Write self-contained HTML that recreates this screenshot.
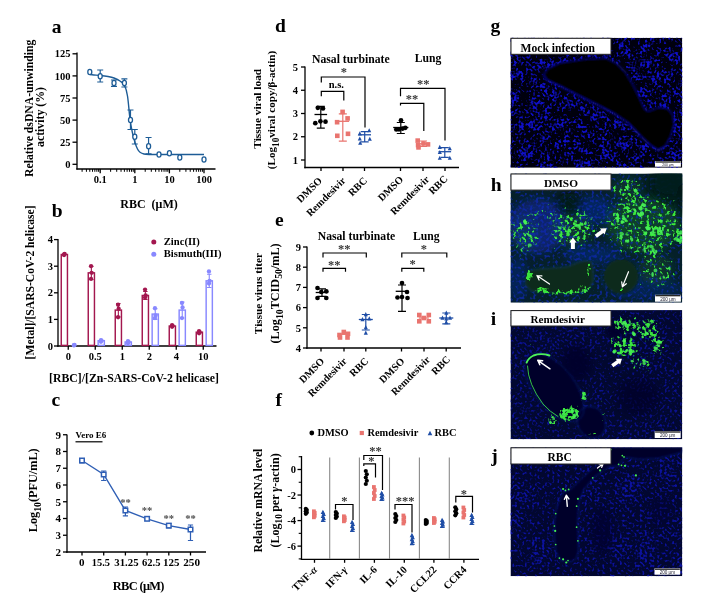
<!DOCTYPE html>
<html><head><meta charset="utf-8"><title>Figure</title>
<style>html,body{margin:0;padding:0;background:#fff}svg{display:block}</style></head>
<body>
<svg width="701" height="600" viewBox="0 0 701 600" font-family="'Liberation Serif', serif" font-weight="bold">
<rect width="701" height="600" fill="#fff"/>
<defs>
<filter id="fb1" x="0" y="0" width="100%" height="100%" color-interpolation-filters="sRGB"><feTurbulence type="fractalNoise" baseFrequency="0.42" numOctaves="1" seed="3" result="a"/><feColorMatrix in="a" type="matrix" values="1 0 0 0 0 0 1 0 0 0 0 0 1 0 0 0 0 0 0 1" result="a1"/><feTurbulence type="fractalNoise" baseFrequency="0.1" numOctaves="2" seed="5" result="b"/><feColorMatrix in="b" type="matrix" values="1 0 0 0 0 0 1 0 0 0 0 0 1 0 0 0 0 0 0 1" result="b1"/><feComposite in="a1" in2="b1" operator="arithmetic" k1="0" k2="1" k3="0.5" k4="-0.25" result="c"/><feColorMatrix in="c" type="matrix" values="0 0 0 0 0.06 0 0 0 0 0.06 0 0 0 0 0.78 5 0 0 0 -2.5"/><feGaussianBlur stdDeviation="0.5"/></filter>
<filter id="fb2" x="0" y="0" width="100%" height="100%" color-interpolation-filters="sRGB"><feTurbulence type="fractalNoise" baseFrequency="0.33" numOctaves="1" seed="11" result="a"/><feColorMatrix in="a" type="matrix" values="1 0 0 0 0 0 1 0 0 0 0 0 1 0 0 0 0 0 0 1" result="a1"/><feTurbulence type="fractalNoise" baseFrequency="0.03" numOctaves="2" seed="9" result="b"/><feColorMatrix in="b" type="matrix" values="1 0 0 0 0 0 1 0 0 0 0 0 1 0 0 0 0 0 0 1" result="b1"/><feComposite in="a1" in2="b1" operator="arithmetic" k1="0" k2="1" k3="0.9" k4="-0.45" result="c"/><feColorMatrix in="c" type="matrix" values="0 0 0 0 0.05 0 0 0 0 0.15 0 0 0 0 0.85 6 0 0 0 -2.82"/><feGaussianBlur stdDeviation="0.45"/></filter>
<filter id="fb3" x="0" y="0" width="100%" height="100%" color-interpolation-filters="sRGB"><feTurbulence type="fractalNoise" baseFrequency="0.4" numOctaves="1" seed="21" result="a"/><feColorMatrix in="a" type="matrix" values="1 0 0 0 0 0 1 0 0 0 0 0 1 0 0 0 0 0 0 1" result="a1"/><feTurbulence type="fractalNoise" baseFrequency="0.07" numOctaves="2" seed="13" result="b"/><feColorMatrix in="b" type="matrix" values="1 0 0 0 0 0 1 0 0 0 0 0 1 0 0 0 0 0 0 1" result="b1"/><feComposite in="a1" in2="b1" operator="arithmetic" k1="0" k2="1" k3="0.6" k4="-0.3" result="c"/><feColorMatrix in="c" type="matrix" values="0 0 0 0 0.07 0 0 0 0 0.09 0 0 0 0 0.8 4.5 0 0 0 -2.295"/><feGaussianBlur stdDeviation="0.6"/></filter>
<filter id="fb4" x="0" y="0" width="100%" height="100%" color-interpolation-filters="sRGB"><feTurbulence type="fractalNoise" baseFrequency="0.4" numOctaves="1" seed="31" result="a"/><feColorMatrix in="a" type="matrix" values="1 0 0 0 0 0 1 0 0 0 0 0 1 0 0 0 0 0 0 1" result="a1"/><feTurbulence type="fractalNoise" baseFrequency="0.07" numOctaves="2" seed="17" result="b"/><feColorMatrix in="b" type="matrix" values="1 0 0 0 0 0 1 0 0 0 0 0 1 0 0 0 0 0 0 1" result="b1"/><feComposite in="a1" in2="b1" operator="arithmetic" k1="0" k2="1" k3="0.6" k4="-0.3" result="c"/><feColorMatrix in="c" type="matrix" values="0 0 0 0 0.07 0 0 0 0 0.09 0 0 0 0 0.8 4.5 0 0 0 -2.295"/><feGaussianBlur stdDeviation="0.6"/></filter>
<filter id="fg1" x="0" y="0" width="100%" height="100%" color-interpolation-filters="sRGB"><feTurbulence type="fractalNoise" baseFrequency="0.4" numOctaves="1" seed="41" result="a"/><feColorMatrix in="a" type="matrix" values="1 0 0 0 0 0 1 0 0 0 0 0 1 0 0 0 0 0 0 1" result="a1"/><feTurbulence type="fractalNoise" baseFrequency="0.08" numOctaves="2" seed="19" result="b"/><feColorMatrix in="b" type="matrix" values="1 0 0 0 0 0 1 0 0 0 0 0 1 0 0 0 0 0 0 1" result="b1"/><feComposite in="a1" in2="b1" operator="arithmetic" k1="0" k2="1" k3="0.9" k4="-0.45" result="c"/><feColorMatrix in="c" type="matrix" values="0 0 0 0 0.25 0 0 0 0 0.95 0 0 0 0 0.25 8 0 0 0 -4.0"/><feGaussianBlur stdDeviation="0.45"/></filter>
<filter id="dgh" filterUnits="userSpaceOnUse" x="510.5" y="173.5" width="171.8" height="129.2" color-interpolation-filters="sRGB"><feTurbulence type="fractalNoise" baseFrequency="0.3" numOctaves="2" seed="41" result="a"/><feColorMatrix in="a" type="matrix" values="1 0 0 0 0 0 1 0 0 0 0 0 1 0 0 0 0 0 0 1" result="a1"/><feColorMatrix in="SourceGraphic" type="matrix" values="0 0 0 1 0 0 0 0 0 0 0 0 0 0 0 0 0 0 0 1" result="s"/><feComposite in="a1" in2="s" operator="arithmetic" k1="0" k2="1" k3="0.5" k4="0" result="c"/><feColorMatrix in="c" type="matrix" values="0 0 0 0 0.25 0 0 0 0 0.98 0 0 0 0 0.25 6 0 0 0 -5.1"/><feGaussianBlur stdDeviation="0.45"/></filter>
<filter id="dbh" filterUnits="userSpaceOnUse" x="510.5" y="173.5" width="171.8" height="129.2" color-interpolation-filters="sRGB"><feTurbulence type="fractalNoise" baseFrequency="0.36" numOctaves="1" seed="11" result="a"/><feColorMatrix in="a" type="matrix" values="1 0 0 0 0 0 1 0 0 0 0 0 1 0 0 0 0 0 0 1" result="a1"/><feColorMatrix in="SourceGraphic" type="matrix" values="0 0 0 1 0 0 0 0 0 0 0 0 0 0 0 0 0 0 0 1" result="s"/><feComposite in="a1" in2="s" operator="arithmetic" k1="0" k2="1" k3="0.5" k4="0" result="c"/><feColorMatrix in="c" type="matrix" values="0 0 0 0 0.06 0 0 0 0 0.16 0 0 0 0 0.7 4 0 0 0 -3.28"/><feGaussianBlur stdDeviation="0.55"/></filter>
<filter id="dgi" filterUnits="userSpaceOnUse" x="510.5" y="310.1" width="171.8" height="129.2" color-interpolation-filters="sRGB"><feTurbulence type="fractalNoise" baseFrequency="0.3" numOctaves="2" seed="43" result="a"/><feColorMatrix in="a" type="matrix" values="1 0 0 0 0 0 1 0 0 0 0 0 1 0 0 0 0 0 0 1" result="a1"/><feColorMatrix in="SourceGraphic" type="matrix" values="0 0 0 1 0 0 0 0 0 0 0 0 0 0 0 0 0 0 0 1" result="s"/><feComposite in="a1" in2="s" operator="arithmetic" k1="0" k2="1" k3="0.5" k4="0" result="c"/><feColorMatrix in="c" type="matrix" values="0 0 0 0 0.25 0 0 0 0 0.98 0 0 0 0 0.25 6 0 0 0 -5.1"/><feGaussianBlur stdDeviation="0.45"/></filter>
<filter id="dbi" filterUnits="userSpaceOnUse" x="510.5" y="310.1" width="171.8" height="129.2" color-interpolation-filters="sRGB"><feTurbulence type="fractalNoise" baseFrequency="0.4" numOctaves="1" seed="21" result="a"/><feColorMatrix in="a" type="matrix" values="1 0 0 0 0 0 1 0 0 0 0 0 1 0 0 0 0 0 0 1" result="a1"/><feColorMatrix in="SourceGraphic" type="matrix" values="0 0 0 1 0 0 0 0 0 0 0 0 0 0 0 0 0 0 0 1" result="s"/><feComposite in="a1" in2="s" operator="arithmetic" k1="0" k2="1" k3="0.5" k4="0" result="c"/><feColorMatrix in="c" type="matrix" values="0 0 0 0 0.06 0 0 0 0 0.08 0 0 0 0 0.7 4 0 0 0 -3.28"/><feGaussianBlur stdDeviation="0.5"/></filter>
<filter id="dbj" filterUnits="userSpaceOnUse" x="510.5" y="447.3" width="171.8" height="128.9" color-interpolation-filters="sRGB"><feTurbulence type="fractalNoise" baseFrequency="0.4" numOctaves="1" seed="31" result="a"/><feColorMatrix in="a" type="matrix" values="1 0 0 0 0 0 1 0 0 0 0 0 1 0 0 0 0 0 0 1" result="a1"/><feColorMatrix in="SourceGraphic" type="matrix" values="0 0 0 1 0 0 0 0 0 0 0 0 0 0 0 0 0 0 0 1" result="s"/><feComposite in="a1" in2="s" operator="arithmetic" k1="0" k2="1" k3="0.5" k4="0" result="c"/><feColorMatrix in="c" type="matrix" values="0 0 0 0 0.06 0 0 0 0 0.08 0 0 0 0 0.72 4.5 0 0 0 -3.69"/><feGaussianBlur stdDeviation="0.5"/></filter>
<filter id="bl2" x="-20%" y="-20%" width="140%" height="140%"><feGaussianBlur stdDeviation="2"/></filter>
<filter id="bl4" x="-30%" y="-30%" width="160%" height="160%"><feGaussianBlur stdDeviation="4"/></filter>
<filter id="bl1" x="-20%" y="-20%" width="140%" height="140%"><feGaussianBlur stdDeviation="0.8"/></filter>
<clipPath id="cpg"><rect x="510.5" y="37.8" width="171.8" height="130"/></clipPath>
<clipPath id="cph"><rect x="510.5" y="173.5" width="171.8" height="129.2"/></clipPath>
<clipPath id="cpi"><rect x="510.5" y="310.1" width="171.8" height="129.2"/></clipPath>
<clipPath id="cpj"><rect x="510.5" y="447.3" width="171.8" height="128.9"/></clipPath>
</defs>
<g clip-path="url(#cpg)">
<rect x="510.5" y="37.8" width="171.8" height="130" fill="#00000e"/>
<rect x="510.5" y="37.8" width="171.8" height="130" filter="url(#fb1)"/>
<path d="M543.3 75.0L547.0 68.8L559.4 62.7L584.0 59.0L606.2 57.7L616.1 62.7L626.0 72.6L633.4 84.9L639.6 97.2L644.5 108.3L648.2 111.1L658.1 107.3L667.9 108.3L672.9 114.5L674.4 124.4L670.9 136.7L665.5 146.6L658.1 150.5L650.7 145.6L640.8 136.7L628.5 123.4L613.7 113.5L596.4 104.6L579.1 96.0L559.4 86.1L547.0 80.2Z" fill="#000005" stroke="#1a1ad0" stroke-width="1.1" stroke-opacity="0.5" filter="url(#bl1)"/>
<path d="M543.3 75.0L547.0 80.2L559.4 86.1L579.1 96.0L596.4 104.6L613.7 113.5L628.5 123.4L640.8 136.7L650.7 145.6L658.1 150.5L665.5 146.6" fill="none" stroke="#1c1cc8" stroke-width="1.1" stroke-opacity="0.55" filter="url(#bl1)"/>
</g>
<rect x="511.0" y="38.3" width="100" height="16.0" fill="#fff" stroke="#222" stroke-width="1"/>
<text x="557.7" y="51.599999999999994" font-size="11.6" text-anchor="middle" fill="#000">Mock infection</text>
<rect x="655" y="161.1" width="25.9" height="5.6" fill="#fff"/>
<rect x="655.4" y="161.4" width="25.099999999999998" height="1.2" fill="#111"/>
<text x="667.95" y="165.79999999999998" font-size="3.4" text-anchor="middle" font-family="'Liberation Sans', sans-serif" font-weight="normal" fill="#223">200 μm</text>
<g clip-path="url(#cph)">
<rect x="510.5" y="173.5" width="171.8" height="129.2" fill="#05202a"/>
<g filter="url(#bl4)"><g fill="#0c2a9a"><ellipse cx="537.1" cy="226.1" rx="29.6" ry="27.1" opacity="0.6"/><ellipse cx="593.9" cy="210.0" rx="17.3" ry="13.6" opacity="0.5"/><ellipse cx="591.4" cy="254.4" rx="27.1" ry="8.6" opacity="0.45"/><ellipse cx="648.2" cy="289.0" rx="34.6" ry="9.9" opacity="0.35"/><ellipse cx="517.4" cy="279.1" rx="9.9" ry="22.2" opacity="0.4"/></g><g fill="#14602c"><ellipse cx="643.3" cy="224.8" rx="37.0" ry="27.1" opacity="0.5"/><ellipse cx="571.7" cy="229.8" rx="19.7" ry="16.0" opacity="0.3"/><ellipse cx="626.0" cy="187.8" rx="14.8" ry="9.9" opacity="0.3"/><ellipse cx="524.8" cy="234.7" rx="12.3" ry="17.3" opacity="0.25"/><ellipse cx="655.6" cy="269.2" rx="17.3" ry="14.8" opacity="0.3"/></g><g fill="#021410"><ellipse cx="667.9" cy="185.3" rx="19.7" ry="17.3" opacity="0.95"/><ellipse cx="569.2" cy="204.6" rx="11.4" ry="9.4" opacity="0.85"/><ellipse cx="682.8" cy="202.6" rx="7.4" ry="14.8" opacity="0.6"/></g></g>
<g filter="url(#dbh)"><g filter="url(#bl4)"><rect x="502.5" y="165.5" width="187.8" height="145.2" opacity="0.55"/><ellipse cx="537.1" cy="226.1" rx="33.3" ry="30.8" opacity="0.33"/><ellipse cx="593.9" cy="210.0" rx="21.0" ry="17.3" opacity="0.3"/><ellipse cx="591.4" cy="254.4" rx="32.1" ry="12.3" opacity="0.25"/><ellipse cx="596.4" cy="298.9" rx="88.8" ry="7.4" opacity="0.15"/><ellipse cx="517.4" cy="279.1" rx="12.3" ry="22.2" opacity="0.15"/><ellipse cx="598.8" cy="276.7" rx="6.2" ry="17.3" opacity="0.2"/></g></g>
<g filter="url(#bl4)" fill="#031a1a"><ellipse cx="670.4" cy="182.9" rx="21.0" ry="16.0" opacity="0.95"/><ellipse cx="569.2" cy="204.6" rx="10.4" ry="8.4" opacity="0.8"/><ellipse cx="684.0" cy="200.1" rx="7.4" ry="17.3" opacity="0.7"/></g>
<g filter="url(#dgh)"><g filter="url(#bl4)"><ellipse cx="643.3" cy="226.1" rx="40.7" ry="32.1" opacity="0.52"/><ellipse cx="618.6" cy="215.0" rx="12.3" ry="9.9" opacity="0.33"/><ellipse cx="638.3" cy="205.1" rx="16.0" ry="9.9" opacity="0.33"/><ellipse cx="655.6" cy="230.3" rx="13.6" ry="8.4" opacity="0.55"/><ellipse cx="679.1" cy="237.2" rx="5.4" ry="9.4" opacity="0.7"/><ellipse cx="648.2" cy="249.5" rx="16.0" ry="7.4" opacity="0.25"/><ellipse cx="626.0" cy="187.8" rx="17.3" ry="12.3" opacity="0.62"/><ellipse cx="572.9" cy="228.5" rx="24.7" ry="19.7" opacity="0.7"/><ellipse cx="524.8" cy="234.7" rx="16.0" ry="21.0" opacity="0.62"/><ellipse cx="544.6" cy="212.5" rx="14.8" ry="7.4" opacity="0.5"/><ellipse cx="658.1" cy="271.7" rx="18.5" ry="17.3" opacity="0.55"/><ellipse cx="667.9" cy="210.0" rx="9.9" ry="12.3" opacity="0.25"/></g></g>
<g fill="#46f056">
<ellipse cx="653.7" cy="232.1" rx="2.2" ry="0.9" opacity="0.88" transform="rotate(46 653.7 232.1)"/>
<ellipse cx="646.4" cy="227.7" rx="1.6" ry="1.0" opacity="0.85" transform="rotate(30 646.4 227.7)"/>
<ellipse cx="661.7" cy="232.2" rx="2.5" ry="1.0" opacity="0.81" transform="rotate(80 661.7 232.2)"/>
<ellipse cx="653.2" cy="229.6" rx="2.1" ry="0.9" opacity="0.81" transform="rotate(71 653.2 229.6)"/>
<ellipse cx="659.4" cy="228.0" rx="1.4" ry="1.0" opacity="0.83" transform="rotate(87 659.4 228.0)"/>
<ellipse cx="659.2" cy="234.0" rx="2.2" ry="1.3" opacity="0.89" transform="rotate(8 659.2 234.0)"/>
<ellipse cx="647.6" cy="228.6" rx="2.0" ry="1.5" opacity="0.94" transform="rotate(59 647.6 228.6)"/>
<ellipse cx="649.2" cy="228.4" rx="1.7" ry="1.7" opacity="0.92" transform="rotate(31 649.2 228.4)"/>
<ellipse cx="660.9" cy="231.7" rx="2.0" ry="1.2" opacity="0.86" transform="rotate(77 660.9 231.7)"/>
<ellipse cx="659.4" cy="230.0" rx="1.9" ry="1.7" opacity="0.79" transform="rotate(62 659.4 230.0)"/>
<ellipse cx="646.0" cy="232.8" rx="1.3" ry="1.5" opacity="0.95" transform="rotate(40 646.0 232.8)"/>
<ellipse cx="652.1" cy="233.0" rx="2.0" ry="1.7" opacity="0.77" transform="rotate(11 652.1 233.0)"/>
<ellipse cx="662.8" cy="229.0" rx="2.2" ry="0.9" opacity="0.93" transform="rotate(82 662.8 229.0)"/>
<ellipse cx="647.5" cy="228.2" rx="1.9" ry="1.7" opacity="0.97" transform="rotate(44 647.5 228.2)"/>
<ellipse cx="681.1" cy="238.3" rx="1.5" ry="1.0" opacity="0.76" transform="rotate(36 681.1 238.3)"/>
<ellipse cx="680.1" cy="240.2" rx="1.8" ry="1.8" opacity="0.77" transform="rotate(57 680.1 240.2)"/>
<ellipse cx="677.8" cy="239.8" rx="1.4" ry="1.3" opacity="0.89" transform="rotate(90 677.8 239.8)"/>
<ellipse cx="677.5" cy="239.8" rx="2.5" ry="1.9" opacity="0.79" transform="rotate(22 677.5 239.8)"/>
<ellipse cx="680.5" cy="242.2" rx="1.3" ry="1.8" opacity="0.8" transform="rotate(36 680.5 242.2)"/>
<ellipse cx="681.0" cy="237.8" rx="1.8" ry="1.5" opacity="0.99" transform="rotate(88 681.0 237.8)"/>
<ellipse cx="680.9" cy="232.5" rx="2.2" ry="1.7" opacity="0.86" transform="rotate(87 680.9 232.5)"/>
<ellipse cx="679.6" cy="233.5" rx="1.8" ry="1.0" opacity="0.91" transform="rotate(7 679.6 233.5)"/>
<ellipse cx="623.0" cy="221.9" rx="1.9" ry="1.0" opacity="0.9" transform="rotate(13 623.0 221.9)"/>
<ellipse cx="623.2" cy="216.2" rx="1.4" ry="1.3" opacity="0.76" transform="rotate(26 623.2 216.2)"/>
<ellipse cx="617.3" cy="214.6" rx="1.6" ry="1.2" opacity="0.84" transform="rotate(15 617.3 214.6)"/>
<ellipse cx="624.3" cy="219.1" rx="2.7" ry="1.4" opacity="0.83" transform="rotate(18 624.3 219.1)"/>
<ellipse cx="623.9" cy="218.4" rx="1.6" ry="1.8" opacity="0.79" transform="rotate(2 623.9 218.4)"/>
<ellipse cx="622.2" cy="222.0" rx="1.8" ry="1.6" opacity="0.98" transform="rotate(67 622.2 222.0)"/>
<ellipse cx="617.8" cy="220.9" rx="1.4" ry="1.8" opacity="0.88" transform="rotate(21 617.8 220.9)"/>
<ellipse cx="617.3" cy="218.5" rx="2.0" ry="1.4" opacity="0.91" transform="rotate(78 617.3 218.5)"/>
<ellipse cx="643.7" cy="205.0" rx="2.5" ry="1.8" opacity="0.95" transform="rotate(29 643.7 205.0)"/>
<ellipse cx="642.0" cy="213.6" rx="2.3" ry="2.0" opacity="0.95" transform="rotate(60 642.0 213.6)"/>
<ellipse cx="639.0" cy="214.5" rx="2.7" ry="1.4" opacity="0.98" transform="rotate(44 639.0 214.5)"/>
<ellipse cx="646.0" cy="209.1" rx="1.6" ry="1.1" opacity="0.8" transform="rotate(26 646.0 209.1)"/>
<ellipse cx="628.6" cy="210.6" rx="2.1" ry="0.9" opacity="0.98" transform="rotate(44 628.6 210.6)"/>
<ellipse cx="640.6" cy="208.5" rx="2.2" ry="1.9" opacity="0.95" transform="rotate(25 640.6 208.5)"/>
<ellipse cx="634.9" cy="210.3" rx="2.4" ry="1.2" opacity="0.95" transform="rotate(50 634.9 210.3)"/>
<ellipse cx="630.2" cy="211.1" rx="1.4" ry="1.0" opacity="1.0" transform="rotate(3 630.2 211.1)"/>
<ellipse cx="654.3" cy="252.9" rx="2.4" ry="1.0" opacity="0.96" transform="rotate(60 654.3 252.9)"/>
<ellipse cx="644.6" cy="247.3" rx="2.0" ry="1.0" opacity="0.75" transform="rotate(83 644.6 247.3)"/>
<ellipse cx="655.9" cy="251.8" rx="1.4" ry="2.0" opacity="0.8" transform="rotate(27 655.9 251.8)"/>
<ellipse cx="653.2" cy="249.9" rx="2.0" ry="1.7" opacity="0.83" transform="rotate(69 653.2 249.9)"/>
<ellipse cx="644.7" cy="250.3" rx="2.6" ry="1.3" opacity="0.86" transform="rotate(74 644.7 250.3)"/>
<ellipse cx="651.4" cy="246.6" rx="2.5" ry="1.8" opacity="0.78" transform="rotate(19 651.4 246.6)"/>
<ellipse cx="627.1" cy="234.5" rx="1.9" ry="1.1" opacity="0.75" transform="rotate(19 627.1 234.5)"/>
<ellipse cx="631.6" cy="239.2" rx="2.3" ry="1.5" opacity="0.83" transform="rotate(66 631.6 239.2)"/>
<ellipse cx="621.7" cy="233.7" rx="2.4" ry="1.8" opacity="0.76" transform="rotate(24 621.7 233.7)"/>
<ellipse cx="627.0" cy="241.1" rx="2.0" ry="1.5" opacity="0.94" transform="rotate(8 627.0 241.1)"/>
<ellipse cx="621.2" cy="236.7" rx="2.0" ry="1.4" opacity="0.92" transform="rotate(57 621.2 236.7)"/>
<ellipse cx="559.7" cy="228.0" rx="2.0" ry="1.1" opacity="0.88" transform="rotate(33 559.7 228.0)"/>
<ellipse cx="585.3" cy="223.6" rx="1.5" ry="1.4" opacity="0.85" transform="rotate(50 585.3 223.6)"/>
<ellipse cx="569.2" cy="229.6" rx="1.6" ry="0.9" opacity="0.92" transform="rotate(15 569.2 229.6)"/>
<ellipse cx="577.6" cy="225.9" rx="2.3" ry="1.6" opacity="0.79" transform="rotate(17 577.6 225.9)"/>
<ellipse cx="579.7" cy="227.5" rx="2.6" ry="1.3" opacity="0.87" transform="rotate(85 579.7 227.5)"/>
<ellipse cx="575.9" cy="224.7" rx="1.9" ry="1.4" opacity="0.83" transform="rotate(25 575.9 224.7)"/>
<ellipse cx="570.1" cy="231.2" rx="1.8" ry="1.2" opacity="0.86" transform="rotate(90 570.1 231.2)"/>
<ellipse cx="529.7" cy="235.6" rx="2.2" ry="1.4" opacity="0.77" transform="rotate(29 529.7 235.6)"/>
<ellipse cx="527.6" cy="233.9" rx="1.6" ry="0.9" opacity="0.94" transform="rotate(34 527.6 233.9)"/>
<ellipse cx="525.1" cy="222.4" rx="2.5" ry="1.6" opacity="0.99" transform="rotate(51 525.1 222.4)"/>
<ellipse cx="529.7" cy="245.2" rx="2.1" ry="1.6" opacity="0.77" transform="rotate(7 529.7 245.2)"/>
<ellipse cx="627.3" cy="187.3" rx="2.6" ry="1.2" opacity="0.75" transform="rotate(11 627.3 187.3)"/>
<ellipse cx="626.9" cy="188.3" rx="2.5" ry="0.9" opacity="0.97" transform="rotate(58 626.9 188.3)"/>
<ellipse cx="635.8" cy="190.8" rx="1.9" ry="1.9" opacity="0.91" transform="rotate(5 635.8 190.8)"/>
<ellipse cx="621.2" cy="189.7" rx="1.4" ry="1.0" opacity="0.76" transform="rotate(25 621.2 189.7)"/>
<ellipse cx="669.5" cy="268.5" rx="2.0" ry="1.1" opacity="0.86" transform="rotate(86 669.5 268.5)"/>
<ellipse cx="663.7" cy="276.9" rx="1.3" ry="1.1" opacity="0.75" transform="rotate(64 663.7 276.9)"/>
<ellipse cx="655.4" cy="270.4" rx="1.9" ry="1.9" opacity="0.78" transform="rotate(83 655.4 270.4)"/>
<ellipse cx="652.6" cy="274.6" rx="2.5" ry="1.3" opacity="0.88" transform="rotate(88 652.6 274.6)"/>
</g>
<path d="M524.8 277.9L526.8 271.7L534.7 269.2L547.0 268.3L566.8 266.8L577.9 262.3L585.3 260.4L591.4 261.4L593.2 268.0L593.2 281.6L589.5 289.0L579.1 292.4L571.7 293.9L547.0 292.9L531.0 291.0L525.3 285.3Z" fill="#092c1e" stroke="#0e3c58" stroke-width="0.8" filter="url(#bl1)"/>
<ellipse cx="621" cy="276.6" rx="17.3" ry="17.3" fill="#092c1e" filter="url(#bl1)"/>
<ellipse cx="621" cy="276.6" rx="19.5" ry="19.5" fill="none" stroke="#1238a0" stroke-opacity="0.55" stroke-width="1" filter="url(#bl1)"/>
<g filter="url(#dgh)"><g filter="url(#bl1)"><ellipse cx="529.7" cy="276.2" rx="3.7" ry="6.4" opacity="1"/><ellipse cx="563.1" cy="292.0" rx="27.1" ry="2.5" opacity="0.95"/><ellipse cx="588.5" cy="269.2" rx="2.0" ry="7.9" opacity="0.95"/><ellipse cx="622.3" cy="289.0" rx="3.0" ry="2.0" opacity="0.9"/><ellipse cx="584.0" cy="287.8" rx="6.9" ry="3.0" opacity="0.85"/><ellipse cx="542.1" cy="289.0" rx="7.4" ry="2.5" opacity="0.9"/></g></g>
</g>
<path d="M-5.8 -2.0L0.8 -2.0L0.8 -3.7L5.8 0.0L0.8 3.7L0.8 2.0L-5.8 2.0Z" fill="#fff" transform="translate(572.9 243.3) rotate(-90)"/>
<path d="M-6.8 -1.9L1.2 -1.9L1.2 -3.8L6.8 0.0L1.2 3.8L1.2 1.9L-6.8 1.9Z" fill="#fff" transform="translate(601.3 232.2) rotate(-36)"/>
<path d="M549.5 284.1L536.9 275.5M541.9 275.9L536.9 275.5L539.1 280.0" stroke="#fff" stroke-width="1.2" fill="none" stroke-linecap="round" stroke-linejoin="round"/>
<path d="M628.5 271.7L622.4 286.8M621.7 281.8L622.4 286.8L626.3 283.7" stroke="#fff" stroke-width="1.2" fill="none" stroke-linecap="round" stroke-linejoin="round"/>
<rect x="511.0" y="174.0" width="100" height="16.1" fill="#fff" stroke="#222" stroke-width="1"/>
<text x="561" y="187.4" font-size="11.3" text-anchor="middle" fill="#000">DMSO</text>
<rect x="655" y="294.8" width="25.9" height="6.9" fill="#fff"/>
<rect x="655.4" y="295.1" width="25.099999999999998" height="1.2" fill="#111"/>
<text x="667.95" y="300.8" font-size="4.6" text-anchor="middle" font-family="'Liberation Sans', sans-serif" font-weight="normal" fill="#223">200 μm</text>
<g clip-path="url(#cpi)">
<rect x="510.5" y="310.1" width="171.8" height="129.2" fill="#020830"/>
<g filter="url(#dbi)"><g filter="url(#bl4)"><rect x="502.5" y="302.1" width="187.8" height="145.2" opacity="0.52"/><ellipse cx="534.7" cy="356.9" rx="27.1" ry="29.6" opacity="0.25"/><ellipse cx="584.0" cy="337.1" rx="27.1" ry="14.8" opacity="0.22"/><ellipse cx="524.8" cy="416.1" rx="22.2" ry="27.1" opacity="0.2"/><ellipse cx="658.1" cy="396.4" rx="27.1" ry="39.5" opacity="0.15"/><ellipse cx="621.1" cy="430.9" rx="49.4" ry="11.1" opacity="0.18"/><ellipse cx="648.2" cy="344.6" rx="29.6" ry="24.7" opacity="0.15"/><ellipse cx="598.8" cy="391.4" rx="12.3" ry="14.8" opacity="0.15"/></g></g>
<g fill="#02062a" filter="url(#bl4)"><ellipse cx="576.1" cy="363.8" rx="15.3" ry="17.8" opacity="0.95"/><ellipse cx="638.3" cy="396.4" rx="21.0" ry="18.5" opacity="0.7"/></g>
<g fill="#02062a" filter="url(#bl2)"><ellipse cx="614.9" cy="331.0" rx="8.4" ry="6.9" opacity="0.95"/></g>
<g fill="#02062a" filter="url(#bl1)"><ellipse cx="554.3" cy="387.3" rx="19.6" ry="40" transform="rotate(-38.5 554.3 387.3)"/><ellipse cx="591.4" cy="422.3" rx="13.5" ry="16" transform="rotate(-25 591.4 422.3)"/></g>
<g fill="none" stroke="#1830b0" stroke-width="0.8" stroke-opacity="0.55" filter="url(#bl1)"><ellipse cx="554.3" cy="387.3" rx="20.2" ry="40.6" transform="rotate(-38.5 554.3 387.3)"/><ellipse cx="591.4" cy="422.3" rx="14" ry="16.5" transform="rotate(-25 591.4 422.3)"/></g>
<g filter="url(#dgi)"><g filter="url(#bl2)"><ellipse cx="626.0" cy="324.8" rx="13.6" ry="7.9" opacity="0.8"/><ellipse cx="648.2" cy="329.7" rx="9.9" ry="11.1" opacity="0.8"/><ellipse cx="658.1" cy="344.6" rx="6.9" ry="11.1" opacity="0.75"/><ellipse cx="626.0" cy="347.0" rx="13.6" ry="11.1" opacity="0.78"/><ellipse cx="640.8" cy="363.1" rx="11.1" ry="7.4" opacity="0.65"/><ellipse cx="613.7" cy="340.8" rx="6.2" ry="6.2" opacity="0.5"/><ellipse cx="654.4" cy="321.1" rx="5.4" ry="3.9" opacity="0.6"/></g><g filter="url(#bl1)"><ellipse cx="568.7" cy="413.7" rx="10.4" ry="7.9" opacity="0.95"/><ellipse cx="552.0" cy="419.8" rx="5.4" ry="5.9" opacity="0.75"/><ellipse cx="584.0" cy="396.4" rx="3.5" ry="5.9" opacity="0.9"/><ellipse cx="576.6" cy="407.5" rx="3.0" ry="3.0" opacity="0.8"/><ellipse cx="591.4" cy="434.1" rx="8.4" ry="1.7" opacity="0.85"/><ellipse cx="603.3" cy="416.1" rx="1.2" ry="6.2" opacity="0.7"/></g></g>
<g fill="#46f056">
<ellipse cx="617.9" cy="323.3" rx="2.4" ry="1.3" opacity="0.88" transform="rotate(75 617.9 323.3)"/>
<ellipse cx="626.1" cy="326.0" rx="1.8" ry="1.5" opacity="0.8" transform="rotate(57 626.1 326.0)"/>
<ellipse cx="622.7" cy="323.6" rx="2.2" ry="1.5" opacity="0.76" transform="rotate(50 622.7 323.6)"/>
<ellipse cx="629.7" cy="321.5" rx="2.0" ry="1.0" opacity="0.75" transform="rotate(67 629.7 321.5)"/>
<ellipse cx="624.9" cy="322.7" rx="2.3" ry="1.5" opacity="0.94" transform="rotate(41 624.9 322.7)"/>
<ellipse cx="633.2" cy="333.1" rx="1.9" ry="1.5" opacity="0.87" transform="rotate(84 633.2 333.1)"/>
<ellipse cx="647.0" cy="333.6" rx="1.7" ry="1.4" opacity="0.98" transform="rotate(10 647.0 333.6)"/>
<ellipse cx="639.5" cy="327.5" rx="1.5" ry="1.1" opacity="0.77" transform="rotate(13 639.5 327.5)"/>
<ellipse cx="634.2" cy="334.4" rx="1.7" ry="1.8" opacity="0.96"/>
<ellipse cx="642.7" cy="337.0" rx="1.3" ry="1.2" opacity="0.93" transform="rotate(53 642.7 337.0)"/>
<ellipse cx="647.1" cy="333.2" rx="2.2" ry="1.1" opacity="0.77" transform="rotate(42 647.1 333.2)"/>
<ellipse cx="658.0" cy="342.7" rx="2.4" ry="1.0" opacity="0.93" transform="rotate(1 658.0 342.7)"/>
<ellipse cx="658.8" cy="345.7" rx="1.5" ry="1.4" opacity="0.86" transform="rotate(24 658.8 345.7)"/>
<ellipse cx="659.0" cy="341.2" rx="1.8" ry="1.2" opacity="0.85" transform="rotate(27 659.0 341.2)"/>
<ellipse cx="659.2" cy="342.1" rx="2.4" ry="1.4" opacity="1.0" transform="rotate(2 659.2 342.1)"/>
<ellipse cx="655.8" cy="348.8" rx="2.3" ry="1.5" opacity="0.78" transform="rotate(18 655.8 348.8)"/>
<ellipse cx="655.6" cy="347.6" rx="2.2" ry="1.2" opacity="0.82" transform="rotate(9 655.6 347.6)"/>
<ellipse cx="629.4" cy="351.3" rx="2.0" ry="0.9" opacity="0.84" transform="rotate(79 629.4 351.3)"/>
<ellipse cx="614.1" cy="352.0" rx="1.8" ry="1.4" opacity="0.97" transform="rotate(23 614.1 352.0)"/>
<ellipse cx="620.3" cy="345.9" rx="1.5" ry="1.5" opacity="0.93" transform="rotate(20 620.3 345.9)"/>
<ellipse cx="624.0" cy="340.9" rx="1.5" ry="1.8" opacity="0.97" transform="rotate(77 624.0 340.9)"/>
<ellipse cx="626.9" cy="350.4" rx="1.4" ry="1.4" opacity="0.81" transform="rotate(90 626.9 350.4)"/>
<ellipse cx="619.0" cy="353.1" rx="2.4" ry="1.3" opacity="0.88" transform="rotate(8 619.0 353.1)"/>
<ellipse cx="630.3" cy="353.9" rx="2.0" ry="1.5" opacity="0.77" transform="rotate(27 630.3 353.9)"/>
<ellipse cx="629.2" cy="347.5" rx="1.3" ry="1.1" opacity="0.86" transform="rotate(7 629.2 347.5)"/>
<ellipse cx="630.5" cy="350.8" rx="1.9" ry="1.8" opacity="0.77" transform="rotate(17 630.5 350.8)"/>
<ellipse cx="644.0" cy="360.7" rx="2.0" ry="1.5" opacity="0.9" transform="rotate(17 644.0 360.7)"/>
<ellipse cx="632.3" cy="361.2" rx="1.8" ry="1.2" opacity="0.83" transform="rotate(4 632.3 361.2)"/>
<ellipse cx="644.2" cy="363.5" rx="1.8" ry="1.6" opacity="0.83" transform="rotate(9 644.2 363.5)"/>
<ellipse cx="574.3" cy="415.7" rx="2.1" ry="1.8" opacity="0.93" transform="rotate(90 574.3 415.7)"/>
<ellipse cx="574.4" cy="417.9" rx="1.7" ry="0.9" opacity="0.87" transform="rotate(9 574.4 417.9)"/>
<ellipse cx="572.5" cy="410.9" rx="2.2" ry="1.7" opacity="0.89" transform="rotate(79 572.5 410.9)"/>
<ellipse cx="566.0" cy="410.5" rx="1.2" ry="0.9" opacity="0.77" transform="rotate(14 566.0 410.5)"/>
<ellipse cx="576.6" cy="413.4" rx="2.1" ry="1.2" opacity="0.93" transform="rotate(74 576.6 413.4)"/>
<ellipse cx="563.2" cy="414.7" rx="1.9" ry="1.4" opacity="0.88" transform="rotate(39 563.2 414.7)"/>
<ellipse cx="564.0" cy="411.2" rx="1.5" ry="1.6" opacity="0.87" transform="rotate(78 564.0 411.2)"/>
<ellipse cx="583.3" cy="393.8" rx="2.3" ry="1.2" opacity="0.79" transform="rotate(78 583.3 393.8)"/>
<ellipse cx="584.3" cy="398.1" rx="2.4" ry="1.5" opacity="0.86" transform="rotate(30 584.3 398.1)"/>
<ellipse cx="550.5" cy="422.5" rx="1.5" ry="1.3" opacity="0.95" transform="rotate(25 550.5 422.5)"/>
<ellipse cx="553.6" cy="418.2" rx="2.0" ry="1.2" opacity="0.78" transform="rotate(63 553.6 418.2)"/>
</g>
<path d="M526.6 362.6Q528.5 358 533.5 355.5Q541 352.8 549.5 355.5" stroke="#4cf25a" stroke-width="1.9" fill="none" stroke-linecap="round"/>
<path d="M527.5 366Q528 384 543 404Q550 412 558 416.5" stroke="#3ad848" stroke-width="1.0" fill="none" stroke-linecap="round" stroke-opacity="0.9"/>
</g>
<path d="M550.0 368.8L537.7 360.3M542.7 360.7L537.7 360.3L539.8 364.8" stroke="#fff" stroke-width="1.4" fill="none" stroke-linecap="round" stroke-linejoin="round"/>
<path d="M-6.0 -1.8L1.0 -1.8L1.0 -3.7L6.0 0.0L1.0 3.7L1.0 1.8L-6.0 1.8Z" fill="#fff" transform="translate(617.1 362.3) rotate(-36)"/>
<rect x="511.0" y="310.6" width="100" height="15.4" fill="#fff" stroke="#222" stroke-width="1"/>
<text x="557.7" y="323.20000000000005" font-size="11.1" text-anchor="middle" fill="#000">Remdesivir</text>
<rect x="654.7" y="431.1" width="26" height="6.9" fill="#fff"/>
<rect x="655.1" y="431.40000000000003" width="25.2" height="1.2" fill="#111"/>
<text x="667.7" y="437.1" font-size="4.6" text-anchor="middle" font-family="'Liberation Sans', sans-serif" font-weight="normal" fill="#223">200 μm</text>
<g clip-path="url(#cpj)">
<rect x="510.5" y="447.3" width="171.8" height="128.9" fill="#020730"/>
<g filter="url(#dbj)"><g filter="url(#bl2)"><rect x="505.5" y="442.3" width="181.8" height="138.9" opacity="0.56"/><ellipse cx="584.0" cy="484.0" rx="9.9" ry="19.7" opacity="0.2" transform="rotate(35 584.0 484.0)"/><ellipse cx="617.6" cy="547.3" rx="13.0" ry="11.9" opacity="0.26"/><ellipse cx="669.3" cy="465.2" rx="10.2" ry="11.9" opacity="0.24"/><ellipse cx="665.6" cy="474.9" rx="10.2" ry="6.8" opacity="0.23"/><ellipse cx="609.2" cy="463.3" rx="8.0" ry="7.0" opacity="0.29"/><ellipse cx="642.3" cy="480.2" rx="13.1" ry="6.0" opacity="0.24"/><ellipse cx="531.9" cy="462.0" rx="13.7" ry="6.5" opacity="0.17"/><ellipse cx="679.7" cy="562.4" rx="8.7" ry="12.1" opacity="0.23"/><ellipse cx="627.1" cy="485.4" rx="14.3" ry="10.0" opacity="0.29"/><ellipse cx="664.4" cy="496.2" rx="9.3" ry="6.2" opacity="0.16"/><ellipse cx="521.3" cy="496.5" rx="11.4" ry="5.0" opacity="0.25"/><ellipse cx="568.4" cy="497.5" rx="13.2" ry="8.5" opacity="0.19"/><ellipse cx="593.1" cy="543.0" rx="6.7" ry="12.2" opacity="0.14"/><ellipse cx="639.5" cy="559.2" rx="6.3" ry="10.8" opacity="0.2"/><ellipse cx="609.9" cy="462.9" rx="6.6" ry="6.3" opacity="0.29"/><ellipse cx="543.9" cy="548.9" rx="14.2" ry="11.9" opacity="0.2"/><ellipse cx="571.3" cy="522.3" rx="12.9" ry="5.7" opacity="0.26"/><ellipse cx="647.7" cy="560.9" rx="6.5" ry="11.9" opacity="0.15"/><ellipse cx="568.9" cy="532.2" rx="14.1" ry="7.5" opacity="0.29"/><ellipse cx="604.2" cy="497.8" rx="8.9" ry="6.2" opacity="0.15"/><ellipse cx="535.7" cy="541.2" rx="14.8" ry="6.1" opacity="0.15"/><ellipse cx="680.5" cy="523.3" rx="9.7" ry="6.7" opacity="0.24"/><ellipse cx="652.7" cy="514.3" rx="9.8" ry="5.3" opacity="0.29"/><ellipse cx="515.7" cy="518.7" rx="13.4" ry="5.9" opacity="0.26"/><ellipse cx="674.1" cy="534.5" rx="13.0" ry="5.7" opacity="0.21"/><ellipse cx="535.8" cy="559.2" rx="8.7" ry="8.3" opacity="0.3"/><ellipse cx="657.2" cy="574.3" rx="10.1" ry="8.6" opacity="0.26"/><ellipse cx="592.8" cy="495.3" rx="9.7" ry="6.0" opacity="0.2"/><ellipse cx="680.7" cy="572.4" rx="11.6" ry="8.6" opacity="0.19"/><ellipse cx="525.4" cy="493.2" rx="12.9" ry="11.4" opacity="0.2"/><ellipse cx="645.8" cy="551.1" rx="12.2" ry="9.9" opacity="0.26"/><ellipse cx="572.8" cy="543.0" rx="8.6" ry="8.5" opacity="0.26"/><ellipse cx="629.4" cy="495.7" rx="14.3" ry="9.7" opacity="0.23"/><ellipse cx="512.0" cy="524.8" rx="8.3" ry="9.9" opacity="0.21"/><ellipse cx="651.1" cy="536.4" rx="13.1" ry="7.5" opacity="0.24"/></g></g>
<g fill="#020730" filter="url(#bl4)"><ellipse cx="602.5" cy="530.9" rx="9.9" ry="23.4" opacity="0.75"/><ellipse cx="660.5" cy="511.2" rx="11.1" ry="14.8" opacity="0.45"/></g>
<path d="M554.4 521.0L556.9 506.2L563.1 492.7L571.7 488.5L581.6 478.6L596.4 465.5L610.0 461.8L610.0 447.0L682.8 447.0L682.8 452.4L658.1 458.6L638.3 459.3L626.0 457.4L621.1 460.6L619.1 465.8L608.7 467.2L593.9 477.1L584.0 489.4L578.6 502.5L577.9 521.0L578.6 550.7L576.6 558.1L570.5 562.0L560.6 560.5L555.7 551.9L554.4 535.8Z" fill="#02062c" filter="url(#bl1)"/>
<path d="M554.4 521.0L556.9 506.2L563.1 492.7L571.7 488.5L581.6 478.6L596.4 465.5L610.0 461.8L610.0 447.0L682.8 447.0L682.8 452.4L658.1 458.6L638.3 459.3L626.0 457.4L621.1 460.6L619.1 465.8L608.7 467.2L593.9 477.1L584.0 489.4L578.6 502.5L577.9 521.0L578.6 550.7L576.6 558.1L570.5 562.0L560.6 560.5L555.7 551.9L554.4 535.8Z" fill="none" stroke="#1a30c0" stroke-opacity="0.5" stroke-width="0.9" filter="url(#bl1)"/>
<g fill="#45ee50">
<circle cx="563.1" cy="489.0" r="1.1"/>
<circle cx="565.5" cy="490.4" r="0.85"/>
<circle cx="568.7" cy="489.4" r="0.85"/>
<circle cx="577.9" cy="498.8" r="1.1"/>
<circle cx="576.6" cy="506.2" r="0.85"/>
<circle cx="592.7" cy="477.8" r="0.85"/>
<circle cx="600.1" cy="470.4" r="1.1"/>
<circle cx="618.6" cy="464.3" r="0.85"/>
<circle cx="621.5" cy="465.3" r="0.85"/>
<circle cx="625.0" cy="465.8" r="1.1"/>
<circle cx="622.3" cy="455.6" r="0.85"/>
<circle cx="624.0" cy="456.9" r="0.85"/>
<circle cx="635.9" cy="475.4" r="1.1"/>
<circle cx="555.7" cy="513.6" r="0.85"/>
<circle cx="554.4" cy="526.0" r="0.85"/>
<circle cx="555.2" cy="530.9" r="1.1"/>
<circle cx="555.7" cy="544.5" r="0.85"/>
<circle cx="576.6" cy="527.2" r="0.85"/>
<circle cx="563.1" cy="559.3" r="1.1"/>
<circle cx="568.0" cy="560.5" r="0.85"/>
<circle cx="559.4" cy="558.1" r="0.85"/>
<circle cx="566.3" cy="562.5" r="1.1"/>
<circle cx="611.2" cy="449.5" r="0.85"/>
<circle cx="577.9" cy="540.8" r="0.85"/>
</g>
</g>
<path d="M567.3 506.4L566.3 495.2M568.9 498.9L566.3 495.2L564.4 499.3" stroke="#fff" stroke-width="1.4" fill="none" stroke-linecap="round" stroke-linejoin="round"/>
<path d="M597.5 468.0L603.3 463.6M601.7 467.3L603.3 463.6L599.3 464.1" stroke="#fff" stroke-width="1.3" fill="none" stroke-linecap="round" stroke-linejoin="round"/>
<rect x="511.0" y="447.8" width="100" height="16.2" fill="#fff" stroke="#222" stroke-width="1"/>
<text x="559.6" y="460.90000000000003" font-size="11.5" text-anchor="middle" fill="#000">RBC</text>
<rect x="654.5" y="568.3" width="25.7" height="6.4" fill="#fff"/>
<rect x="654.9" y="568.5999999999999" width="24.9" height="1.2" fill="#111"/>
<text x="667.35" y="573.8" font-size="4.6" text-anchor="middle" font-family="'Liberation Sans', sans-serif" font-weight="normal" fill="#223">200 μm</text>
<text x="490.5" y="32" font-size="19.5" text-anchor="start" fill="#000">g</text>
<text x="490.7" y="190.6" font-size="19.5" text-anchor="start" fill="#000">h</text>
<text x="490.8" y="324.5" font-size="19.5" text-anchor="start" fill="#000">i</text>
<text x="491.2" y="461.6" font-size="19.5" text-anchor="start" fill="#000">j</text>
<text x="51.7" y="32.6" font-size="19.5" text-anchor="start" fill="#000">a</text>
<line x1="77" y1="52.5" x2="77" y2="169.5" stroke="#000" stroke-width="1.3"/>
<line x1="76.3" y1="169" x2="215.5" y2="169" stroke="#000" stroke-width="1.3"/>
<line x1="72.5" y1="164.3" x2="77" y2="164.3" stroke="#000" stroke-width="1.3"/>
<text x="70.5" y="167.9" font-size="10.5" text-anchor="end" fill="#000">0</text>
<line x1="72.5" y1="142.20000000000002" x2="77" y2="142.20000000000002" stroke="#000" stroke-width="1.3"/>
<text x="70.5" y="145.8" font-size="10.5" text-anchor="end" fill="#000">25</text>
<line x1="72.5" y1="120.10000000000001" x2="77" y2="120.10000000000001" stroke="#000" stroke-width="1.3"/>
<text x="70.5" y="123.7" font-size="10.5" text-anchor="end" fill="#000">50</text>
<line x1="72.5" y1="98.00000000000001" x2="77" y2="98.00000000000001" stroke="#000" stroke-width="1.3"/>
<text x="70.5" y="101.60000000000001" font-size="10.5" text-anchor="end" fill="#000">75</text>
<line x1="72.5" y1="75.9" x2="77" y2="75.9" stroke="#000" stroke-width="1.3"/>
<text x="70.5" y="79.5" font-size="10.5" text-anchor="end" fill="#000">100</text>
<line x1="72.5" y1="53.80000000000001" x2="77" y2="53.80000000000001" stroke="#000" stroke-width="1.3"/>
<text x="70.5" y="57.40000000000001" font-size="10.5" text-anchor="end" fill="#000">125</text>
<line x1="82.10839541330031" y1="169" x2="82.10839541330031" y2="171.8" stroke="#000" stroke-width="1.0"/>
<line x1="86.43127569994749" y1="169" x2="86.43127569994749" y2="171.8" stroke="#000" stroke-width="1.0"/>
<line x1="89.78436215002625" y1="169" x2="89.78436215002625" y2="171.8" stroke="#000" stroke-width="1.0"/>
<line x1="92.52403326327408" y1="169" x2="92.52403326327408" y2="171.8" stroke="#000" stroke-width="1.0"/>
<line x1="94.8403921844933" y1="169" x2="94.8403921844933" y2="171.8" stroke="#000" stroke-width="1.0"/>
<line x1="96.84691354992125" y1="169" x2="96.84691354992125" y2="171.8" stroke="#000" stroke-width="1.0"/>
<line x1="98.61679082660064" y1="169" x2="98.61679082660064" y2="171.8" stroke="#000" stroke-width="1.0"/>
<line x1="100.2" y1="169" x2="100.2" y2="173.3" stroke="#000" stroke-width="1.3"/>
<line x1="110.61563784997375" y1="169" x2="110.61563784997375" y2="171.8" stroke="#000" stroke-width="1.0"/>
<line x1="116.70839541330032" y1="169" x2="116.70839541330032" y2="171.8" stroke="#000" stroke-width="1.0"/>
<line x1="121.0312756999475" y1="169" x2="121.0312756999475" y2="171.8" stroke="#000" stroke-width="1.0"/>
<line x1="124.38436215002625" y1="169" x2="124.38436215002625" y2="171.8" stroke="#000" stroke-width="1.0"/>
<line x1="127.12403326327407" y1="169" x2="127.12403326327407" y2="171.8" stroke="#000" stroke-width="1.0"/>
<line x1="129.4403921844933" y1="169" x2="129.4403921844933" y2="171.8" stroke="#000" stroke-width="1.0"/>
<line x1="131.44691354992125" y1="169" x2="131.44691354992125" y2="171.8" stroke="#000" stroke-width="1.0"/>
<line x1="133.21679082660063" y1="169" x2="133.21679082660063" y2="171.8" stroke="#000" stroke-width="1.0"/>
<line x1="134.8" y1="169" x2="134.8" y2="173.3" stroke="#000" stroke-width="1.3"/>
<line x1="145.21563784997375" y1="169" x2="145.21563784997375" y2="171.8" stroke="#000" stroke-width="1.0"/>
<line x1="151.30839541330033" y1="169" x2="151.30839541330033" y2="171.8" stroke="#000" stroke-width="1.0"/>
<line x1="155.6312756999475" y1="169" x2="155.6312756999475" y2="171.8" stroke="#000" stroke-width="1.0"/>
<line x1="158.98436215002624" y1="169" x2="158.98436215002624" y2="171.8" stroke="#000" stroke-width="1.0"/>
<line x1="161.72403326327407" y1="169" x2="161.72403326327407" y2="171.8" stroke="#000" stroke-width="1.0"/>
<line x1="164.0403921844933" y1="169" x2="164.0403921844933" y2="171.8" stroke="#000" stroke-width="1.0"/>
<line x1="166.04691354992127" y1="169" x2="166.04691354992127" y2="171.8" stroke="#000" stroke-width="1.0"/>
<line x1="167.81679082660065" y1="169" x2="167.81679082660065" y2="171.8" stroke="#000" stroke-width="1.0"/>
<line x1="169.4" y1="169" x2="169.4" y2="173.3" stroke="#000" stroke-width="1.3"/>
<line x1="179.81563784997377" y1="169" x2="179.81563784997377" y2="171.8" stroke="#000" stroke-width="1.0"/>
<line x1="185.90839541330033" y1="169" x2="185.90839541330033" y2="171.8" stroke="#000" stroke-width="1.0"/>
<line x1="190.2312756999475" y1="169" x2="190.2312756999475" y2="171.8" stroke="#000" stroke-width="1.0"/>
<line x1="193.58436215002627" y1="169" x2="193.58436215002627" y2="171.8" stroke="#000" stroke-width="1.0"/>
<line x1="196.3240332632741" y1="169" x2="196.3240332632741" y2="171.8" stroke="#000" stroke-width="1.0"/>
<line x1="198.6403921844933" y1="169" x2="198.6403921844933" y2="171.8" stroke="#000" stroke-width="1.0"/>
<line x1="200.64691354992127" y1="169" x2="200.64691354992127" y2="171.8" stroke="#000" stroke-width="1.0"/>
<line x1="202.41679082660065" y1="169" x2="202.41679082660065" y2="171.8" stroke="#000" stroke-width="1.0"/>
<line x1="204.0" y1="169" x2="204.0" y2="173.3" stroke="#000" stroke-width="1.3"/>
<text x="100.2" y="182.5" font-size="10.5" text-anchor="middle" fill="#000">0.1</text>
<text x="134.8" y="182.5" font-size="10.5" text-anchor="middle" fill="#000">1</text>
<text x="169.4" y="182.5" font-size="10.5" text-anchor="middle" fill="#000">10</text>
<text x="204.0" y="182.5" font-size="10.5" text-anchor="middle" fill="#000">100</text>
<text x="149" y="207.8" font-size="12" text-anchor="middle" fill="#000">RBC  (μM)</text>
<text x="33.5" y="108.3" font-size="11.7" text-anchor="middle" fill="#000" transform="rotate(-90 33.5 108.3)">Relative dsDNA-unwinding</text>
<text x="43.8" y="117" font-size="11.8" text-anchor="middle" fill="#000" transform="rotate(-90 43.8 117)">activity (%)</text>
<path d="M90 74.5C91.7 74.7 97.2 75.2 100.2 75.5C103.2 75.8 105.7 76.1 108 76.5C110.3 76.9 112.0 77.2 114 78C116.0 78.8 118.2 79.8 120 81C121.8 82.2 123.3 83.0 124.6 85.5C125.8 88.0 126.6 90.4 127.5 96C128.4 101.6 129.2 112.8 130 119C130.8 125.2 131.7 129.1 132.5 133C133.3 136.9 134.2 139.8 135 142.5C135.8 145.2 136.7 147.4 137.5 149C138.3 150.6 138.9 151.5 140 152.3C141.1 153.1 142.3 153.6 144 154C145.7 154.4 147.0 154.4 150 154.5C154.3 154.6 161.0 154.5 170 154.5C179.0 154.5 198.3 154.5 204 154.5" stroke="#1d5c96" stroke-width="1.4" fill="none"/>
<path d="M100.2 70V82M97.2 70H103.2M97.2 82H103.2" stroke="#1d5c96" stroke-width="1.2" fill="none"/>
<path d="M113.9687243000525 80V86.3M110.9687243000525 80H116.9687243000525M110.9687243000525 86.3H116.9687243000525" stroke="#1d5c96" stroke-width="1.2" fill="none"/>
<path d="M124.38436215002625 78.8V87M121.38436215002625 78.8H127.38436215002625M121.38436215002625 87H127.38436215002625" stroke="#1d5c96" stroke-width="1.2" fill="none"/>
<path d="M130.47711971335283 110V129.5M127.47711971335283 110H133.47711971335283M127.47711971335283 129.5H133.47711971335283" stroke="#1d5c96" stroke-width="1.2" fill="none"/>
<path d="M134.8 129.5V144M131.8 129.5H137.8M131.8 144H137.8" stroke="#1d5c96" stroke-width="1.2" fill="none"/>
<path d="M148.5687243000525 137.5V153.8M145.5687243000525 137.5H151.5687243000525M145.5687243000525 153.8H151.5687243000525" stroke="#1d5c96" stroke-width="1.2" fill="none"/>
<ellipse cx="89.8" cy="72" rx="2.0" ry="2.6" fill="#fff" stroke="#1d5c96" stroke-width="1.3"/>
<ellipse cx="100.2" cy="76.25" rx="2.0" ry="2.6" fill="#fff" stroke="#1d5c96" stroke-width="1.3"/>
<ellipse cx="114.0" cy="83" rx="2.0" ry="2.6" fill="#fff" stroke="#1d5c96" stroke-width="1.3"/>
<ellipse cx="124.4" cy="83" rx="2.0" ry="2.6" fill="#fff" stroke="#1d5c96" stroke-width="1.3"/>
<ellipse cx="130.5" cy="120" rx="2.0" ry="2.6" fill="#fff" stroke="#1d5c96" stroke-width="1.3"/>
<ellipse cx="134.8" cy="136.8" rx="2.0" ry="2.6" fill="#fff" stroke="#1d5c96" stroke-width="1.3"/>
<ellipse cx="148.6" cy="146.3" rx="2.0" ry="2.6" fill="#fff" stroke="#1d5c96" stroke-width="1.3"/>
<ellipse cx="159.0" cy="154.5" rx="2.0" ry="2.6" fill="#fff" stroke="#1d5c96" stroke-width="1.3"/>
<ellipse cx="169.4" cy="153.3" rx="2.0" ry="2.6" fill="#fff" stroke="#1d5c96" stroke-width="1.3"/>
<ellipse cx="179.8" cy="157.5" rx="2.0" ry="2.6" fill="#fff" stroke="#1d5c96" stroke-width="1.3"/>
<ellipse cx="204.0" cy="159.5" rx="2.0" ry="2.6" fill="#fff" stroke="#1d5c96" stroke-width="1.3"/>
<text x="51.7" y="217.4" font-size="19.5" text-anchor="start" fill="#000">b</text>
<line x1="58" y1="239" x2="58" y2="346.7" stroke="#000" stroke-width="1.3"/>
<line x1="57.3" y1="346" x2="216.5" y2="346" stroke="#000" stroke-width="1.3"/>
<line x1="54" y1="346.0" x2="58" y2="346.0" stroke="#000" stroke-width="1.3"/>
<text x="53" y="349.6" font-size="10.5" text-anchor="end" fill="#000">0</text>
<line x1="54" y1="319.4" x2="58" y2="319.4" stroke="#000" stroke-width="1.3"/>
<text x="53" y="323.0" font-size="10.5" text-anchor="end" fill="#000">1</text>
<line x1="54" y1="292.8" x2="58" y2="292.8" stroke="#000" stroke-width="1.3"/>
<text x="53" y="296.40000000000003" font-size="10.5" text-anchor="end" fill="#000">2</text>
<line x1="54" y1="266.2" x2="58" y2="266.2" stroke="#000" stroke-width="1.3"/>
<text x="53" y="269.8" font-size="10.5" text-anchor="end" fill="#000">3</text>
<line x1="54" y1="239.6" x2="58" y2="239.6" stroke="#000" stroke-width="1.3"/>
<text x="53" y="243.2" font-size="10.5" text-anchor="end" fill="#000">4</text>
<line x1="68.25" y1="346" x2="68.25" y2="349.7" stroke="#000" stroke-width="1.3"/>
<text x="68.25" y="360" font-size="10.5" text-anchor="middle" fill="#000">0</text>
<line x1="95.25" y1="346" x2="95.25" y2="349.7" stroke="#000" stroke-width="1.3"/>
<text x="95.25" y="360" font-size="10.5" text-anchor="middle" fill="#000">0.5</text>
<line x1="122.25" y1="346" x2="122.25" y2="349.7" stroke="#000" stroke-width="1.3"/>
<text x="122.25" y="360" font-size="10.5" text-anchor="middle" fill="#000">1</text>
<line x1="149.25" y1="346" x2="149.25" y2="349.7" stroke="#000" stroke-width="1.3"/>
<text x="149.25" y="360" font-size="10.5" text-anchor="middle" fill="#000">2</text>
<line x1="176.25" y1="346" x2="176.25" y2="349.7" stroke="#000" stroke-width="1.3"/>
<text x="176.25" y="360" font-size="10.5" text-anchor="middle" fill="#000">4</text>
<line x1="203.25" y1="346" x2="203.25" y2="349.7" stroke="#000" stroke-width="1.3"/>
<text x="203.25" y="360" font-size="10.5" text-anchor="middle" fill="#000">10</text>
<rect x="61.25" y="254.50" width="6.2" height="90.90" fill="#fff" stroke="#a3174f" stroke-width="1.45"/>
<circle cx="64.05" cy="255.028" r="2.15" fill="#a3174f" stroke="none" stroke-width="1"/>
<circle cx="64.64999999999999" cy="253.964" r="2.15" fill="#a3174f" stroke="none" stroke-width="1"/>
<circle cx="64.05" cy="254.49599999999998" r="2.15" fill="#a3174f" stroke="none" stroke-width="1"/>
<circle cx="73.95" cy="345.202" r="2.15" fill="#8888ff" stroke="none" stroke-width="1"/>
<circle cx="74.55" cy="344.936" r="2.15" fill="#8888ff" stroke="none" stroke-width="1"/>
<circle cx="73.95" cy="345.468" r="2.15" fill="#8888ff" stroke="none" stroke-width="1"/>
<rect x="88.25" y="272.85" width="6.2" height="72.55" fill="#fff" stroke="#a3174f" stroke-width="1.45"/>
<path d="M91.35 266.2V279.5M89.14999999999999 266.2H93.55M89.14999999999999 279.5H93.55" stroke="#a3174f" stroke-width="1.1" fill="none"/>
<circle cx="91.05" cy="266.2" r="2.15" fill="#a3174f" stroke="none" stroke-width="1"/>
<circle cx="91.64999999999999" cy="272.85" r="2.15" fill="#a3174f" stroke="none" stroke-width="1"/>
<circle cx="91.05" cy="278.96799999999996" r="2.15" fill="#a3174f" stroke="none" stroke-width="1"/>
<rect x="98.15" y="340.68" width="6.2" height="4.72" fill="#fff" stroke="#8888ff" stroke-width="1.45"/>
<circle cx="100.95" cy="340.148" r="2.15" fill="#8888ff" stroke="none" stroke-width="1"/>
<circle cx="101.55" cy="340.68" r="2.15" fill="#8888ff" stroke="none" stroke-width="1"/>
<circle cx="100.95" cy="341.744" r="2.15" fill="#8888ff" stroke="none" stroke-width="1"/>
<rect x="115.25" y="310.09" width="6.2" height="35.31" fill="#fff" stroke="#a3174f" stroke-width="1.45"/>
<path d="M118.35 303.44V316.74M116.14999999999999 303.44H120.55M116.14999999999999 316.74H120.55" stroke="#a3174f" stroke-width="1.1" fill="none"/>
<circle cx="118.05" cy="304.77" r="2.15" fill="#a3174f" stroke="none" stroke-width="1"/>
<circle cx="118.64999999999999" cy="308.76" r="2.15" fill="#a3174f" stroke="none" stroke-width="1"/>
<circle cx="118.05" cy="317.272" r="2.15" fill="#a3174f" stroke="none" stroke-width="1"/>
<rect x="125.15" y="342.01" width="6.2" height="3.39" fill="#fff" stroke="#8888ff" stroke-width="1.45"/>
<circle cx="127.95" cy="341.212" r="2.15" fill="#8888ff" stroke="none" stroke-width="1"/>
<circle cx="128.55" cy="342.01" r="2.15" fill="#8888ff" stroke="none" stroke-width="1"/>
<circle cx="127.95" cy="343.34" r="2.15" fill="#8888ff" stroke="none" stroke-width="1"/>
<rect x="142.25" y="295.46" width="6.2" height="49.94" fill="#fff" stroke="#a3174f" stroke-width="1.45"/>
<path d="M145.35 291.47V299.45M143.15 291.47H147.54999999999998M143.15 299.45H147.54999999999998" stroke="#a3174f" stroke-width="1.1" fill="none"/>
<circle cx="145.04999999999998" cy="289.608" r="2.15" fill="#a3174f" stroke="none" stroke-width="1"/>
<circle cx="145.65" cy="295.46" r="2.15" fill="#a3174f" stroke="none" stroke-width="1"/>
<circle cx="145.04999999999998" cy="297.58799999999997" r="2.15" fill="#a3174f" stroke="none" stroke-width="1"/>
<rect x="152.15" y="314.08" width="6.2" height="31.32" fill="#fff" stroke="#8888ff" stroke-width="1.45"/>
<path d="M155.25 308.76V319.4M153.05 308.76H157.45M153.05 319.4H157.45" stroke="#8888ff" stroke-width="1.1" fill="none"/>
<circle cx="154.95" cy="308.228" r="2.15" fill="#8888ff" stroke="none" stroke-width="1"/>
<circle cx="155.55" cy="315.41" r="2.15" fill="#8888ff" stroke="none" stroke-width="1"/>
<circle cx="154.95" cy="318.07" r="2.15" fill="#8888ff" stroke="none" stroke-width="1"/>
<rect x="169.25" y="326.05" width="6.2" height="19.35" fill="#fff" stroke="#a3174f" stroke-width="1.45"/>
<circle cx="172.04999999999998" cy="325.252" r="2.15" fill="#a3174f" stroke="none" stroke-width="1"/>
<circle cx="172.65" cy="325.784" r="2.15" fill="#a3174f" stroke="none" stroke-width="1"/>
<circle cx="172.04999999999998" cy="326.848" r="2.15" fill="#a3174f" stroke="none" stroke-width="1"/>
<rect x="179.15" y="310.09" width="6.2" height="35.31" fill="#fff" stroke="#8888ff" stroke-width="1.45"/>
<path d="M182.25 302.11V318.07M180.05 302.11H184.45M180.05 318.07H184.45" stroke="#8888ff" stroke-width="1.1" fill="none"/>
<circle cx="181.95" cy="302.908" r="2.15" fill="#8888ff" stroke="none" stroke-width="1"/>
<circle cx="182.55" cy="307.43" r="2.15" fill="#8888ff" stroke="none" stroke-width="1"/>
<circle cx="181.95" cy="318.07" r="2.15" fill="#8888ff" stroke="none" stroke-width="1"/>
<rect x="196.25" y="332.17" width="6.2" height="13.23" fill="#fff" stroke="#a3174f" stroke-width="1.45"/>
<circle cx="199.04999999999998" cy="331.104" r="2.15" fill="#a3174f" stroke="none" stroke-width="1"/>
<circle cx="199.65" cy="332.168" r="2.15" fill="#a3174f" stroke="none" stroke-width="1"/>
<circle cx="199.04999999999998" cy="333.23199999999997" r="2.15" fill="#a3174f" stroke="none" stroke-width="1"/>
<rect x="206.15" y="280.83" width="6.2" height="64.57" fill="#fff" stroke="#8888ff" stroke-width="1.45"/>
<path d="M209.25 274.18V287.48M207.05 274.18H211.45M207.05 287.48H211.45" stroke="#8888ff" stroke-width="1.1" fill="none"/>
<circle cx="208.95" cy="271.52" r="2.15" fill="#8888ff" stroke="none" stroke-width="1"/>
<circle cx="209.55" cy="280.83" r="2.15" fill="#8888ff" stroke="none" stroke-width="1"/>
<circle cx="208.95" cy="283.49" r="2.15" fill="#8888ff" stroke="none" stroke-width="1"/>
<circle cx="153.8" cy="242" r="2.5" fill="#a3174f" stroke="none" stroke-width="1"/>
<text x="163.8" y="244.6" font-size="10.6" text-anchor="start" fill="#000">Zinc(II)</text>
<circle cx="153.8" cy="254.3" r="2.5" fill="#8888ff" stroke="none" stroke-width="1"/>
<text x="163.8" y="257.2" font-size="10.6" text-anchor="start" fill="#000">Bismuth(III)</text>
<text x="33.8" y="282.4" font-size="11.6" text-anchor="middle" fill="#000" transform="rotate(-90 33.8 282.4)">[Metal]/[SARS-CoV-2 helicase]</text>
<text x="134" y="382.2" font-size="11.76" text-anchor="middle" fill="#000">[RBC]/[Zn-SARS-CoV-2 helicase]</text>
<text x="51.5" y="405.8" font-size="19.5" text-anchor="start" fill="#000">c</text>
<line x1="67" y1="434.5" x2="67" y2="552.7" stroke="#000" stroke-width="1.3"/>
<line x1="66.3" y1="552" x2="206" y2="552" stroke="#000" stroke-width="1.3"/>
<line x1="63" y1="552.0" x2="67" y2="552.0" stroke="#000" stroke-width="1.3"/>
<text x="61" y="555.8" font-size="11" text-anchor="end" fill="#000">2</text>
<line x1="63" y1="535.25" x2="67" y2="535.25" stroke="#000" stroke-width="1.3"/>
<text x="61" y="539.05" font-size="11" text-anchor="end" fill="#000">3</text>
<line x1="63" y1="518.5" x2="67" y2="518.5" stroke="#000" stroke-width="1.3"/>
<text x="61" y="522.3" font-size="11" text-anchor="end" fill="#000">4</text>
<line x1="63" y1="501.75" x2="67" y2="501.75" stroke="#000" stroke-width="1.3"/>
<text x="61" y="505.55" font-size="11" text-anchor="end" fill="#000">5</text>
<line x1="63" y1="485.0" x2="67" y2="485.0" stroke="#000" stroke-width="1.3"/>
<text x="61" y="488.8" font-size="11" text-anchor="end" fill="#000">6</text>
<line x1="63" y1="468.25" x2="67" y2="468.25" stroke="#000" stroke-width="1.3"/>
<text x="61" y="472.05" font-size="11" text-anchor="end" fill="#000">7</text>
<line x1="63" y1="451.5" x2="67" y2="451.5" stroke="#000" stroke-width="1.3"/>
<text x="61" y="455.3" font-size="11" text-anchor="end" fill="#000">8</text>
<line x1="63" y1="434.75" x2="67" y2="434.75" stroke="#000" stroke-width="1.3"/>
<text x="61" y="438.55" font-size="11" text-anchor="end" fill="#000">9</text>
<line x1="82.0" y1="552" x2="82.0" y2="555.5" stroke="#000" stroke-width="1.3"/>
<text x="81.8" y="565.7" font-size="11" text-anchor="middle" fill="#000">0</text>
<line x1="103.7" y1="552" x2="103.7" y2="555.5" stroke="#000" stroke-width="1.3"/>
<text x="100.9" y="565.7" font-size="10.4" text-anchor="middle" fill="#000">15.5</text>
<line x1="125.4" y1="552" x2="125.4" y2="555.5" stroke="#000" stroke-width="1.3"/>
<text x="126.4" y="565.7" font-size="10.8" text-anchor="middle" fill="#000">31.25</text>
<line x1="147.1" y1="552" x2="147.1" y2="555.5" stroke="#000" stroke-width="1.3"/>
<text x="151.2" y="565.7" font-size="10.6" text-anchor="middle" fill="#000">62.5</text>
<line x1="168.8" y1="552" x2="168.8" y2="555.5" stroke="#000" stroke-width="1.3"/>
<text x="171.2" y="565.7" font-size="11" text-anchor="middle" fill="#000">125</text>
<line x1="190.5" y1="552" x2="190.5" y2="555.5" stroke="#000" stroke-width="1.3"/>
<text x="191.6" y="565.7" font-size="11.2" text-anchor="middle" fill="#000">250</text>
<path d="M82.0 460.5L103.7 474.5L125.4 510.5L147.1 518.8L168.8 525.6L190.5 529.5" stroke="#2f5fb5" stroke-width="1.4" fill="none"/>
<path d="M82.0 458.5V463M79.4 458.5H84.6M79.4 463H84.6" stroke="#2f5fb5" stroke-width="1.2" fill="none"/>
<path d="M103.7 471V480.5M101.10000000000001 471H106.3M101.10000000000001 480.5H106.3" stroke="#2f5fb5" stroke-width="1.2" fill="none"/>
<path d="M125.4 507V515.8M122.80000000000001 507H128.0M122.80000000000001 515.8H128.0" stroke="#2f5fb5" stroke-width="1.2" fill="none"/>
<path d="M168.8 523.5V528M166.20000000000002 523.5H171.4M166.20000000000002 528H171.4" stroke="#2f5fb5" stroke-width="1.2" fill="none"/>
<path d="M190.5 525V540.5M187.9 525H193.1M187.9 540.5H193.1" stroke="#2f5fb5" stroke-width="1.2" fill="none"/>
<rect x="79.75" y="458.25" width="4.5" height="4.5" fill="#fff" stroke="#2f5fb5" stroke-width="1.5"/>
<rect x="101.45" y="472.25" width="4.5" height="4.5" fill="#fff" stroke="#2f5fb5" stroke-width="1.5"/>
<rect x="123.15" y="508.25" width="4.5" height="4.5" fill="#fff" stroke="#2f5fb5" stroke-width="1.5"/>
<rect x="144.85" y="516.55" width="4.5" height="4.5" fill="#fff" stroke="#2f5fb5" stroke-width="1.5"/>
<rect x="166.55" y="523.35" width="4.5" height="4.5" fill="#fff" stroke="#2f5fb5" stroke-width="1.5"/>
<rect x="188.25" y="527.25" width="4.5" height="4.5" fill="#fff" stroke="#2f5fb5" stroke-width="1.5"/>
<text x="125.5" y="505.5" font-size="10.6" text-anchor="middle" fill="#505050">**</text>
<text x="147" y="513.8000000000001" font-size="10.6" text-anchor="middle" fill="#505050">**</text>
<text x="168.8" y="521.7" font-size="10.6" text-anchor="middle" fill="#505050">**</text>
<text x="190.5" y="521.7" font-size="10.6" text-anchor="middle" fill="#505050">**</text>
<text x="75.5" y="437.5" font-size="9" text-anchor="start" fill="#000">Vero E6</text>
<line x1="75.5" y1="441.8" x2="102.5" y2="441.8" stroke="#000" stroke-width="1.2"/>
<text x="138.3" y="590.2" font-size="12.4" text-anchor="middle" fill="#000" letter-spacing="-0.65">RBC (μM)</text>
<text x="37.5" y="490.3" font-size="12.25" text-anchor="middle" transform="rotate(-90 37.5 490.3)">Log<tspan font-size="9.8" dy="4">10</tspan><tspan dy="-4">(PFU/mL)</tspan></text>
<text x="274.9" y="32" font-size="19.5" text-anchor="start" fill="#000">d</text>
<line x1="305" y1="66.5" x2="305" y2="168.2" stroke="#000" stroke-width="1.3"/>
<line x1="304.3" y1="167.5" x2="459" y2="167.5" stroke="#000" stroke-width="1.3"/>
<line x1="301" y1="160.0" x2="305" y2="160.0" stroke="#000" stroke-width="1.3"/>
<text x="298" y="163.7" font-size="10.5" text-anchor="end" fill="#000">1</text>
<line x1="301" y1="136.75" x2="305" y2="136.75" stroke="#000" stroke-width="1.3"/>
<text x="298" y="140.45" font-size="10.5" text-anchor="end" fill="#000">2</text>
<line x1="301" y1="113.5" x2="305" y2="113.5" stroke="#000" stroke-width="1.3"/>
<text x="298" y="117.2" font-size="10.5" text-anchor="end" fill="#000">3</text>
<line x1="301" y1="90.25" x2="305" y2="90.25" stroke="#000" stroke-width="1.3"/>
<text x="298" y="93.95" font-size="10.5" text-anchor="end" fill="#000">4</text>
<line x1="301" y1="67.0" x2="305" y2="67.0" stroke="#000" stroke-width="1.3"/>
<text x="298" y="70.7" font-size="10.5" text-anchor="end" fill="#000">5</text>
<line x1="321" y1="167.5" x2="321" y2="171" stroke="#000" stroke-width="1.3"/>
<line x1="343" y1="167.5" x2="343" y2="171" stroke="#000" stroke-width="1.3"/>
<line x1="364.5" y1="167.5" x2="364.5" y2="171" stroke="#000" stroke-width="1.3"/>
<line x1="400.5" y1="167.5" x2="400.5" y2="171" stroke="#000" stroke-width="1.3"/>
<line x1="423" y1="167.5" x2="423" y2="171" stroke="#000" stroke-width="1.3"/>
<line x1="445" y1="167.5" x2="445" y2="171" stroke="#000" stroke-width="1.3"/>
<text x="322.7" y="181.3" font-size="10.3" text-anchor="end" fill="#000" transform="rotate(-45 322.7 181.3)">DMSO</text>
<text x="346.2" y="181.3" font-size="10.3" text-anchor="end" fill="#000" transform="rotate(-45 346.2 181.3)">Remdesivir</text>
<text x="367.7" y="181.3" font-size="10.3" text-anchor="end" fill="#000" transform="rotate(-45 367.7 181.3)">RBC</text>
<text x="403.9" y="180" font-size="10.3" text-anchor="end" fill="#000" transform="rotate(-45 403.9 180)">DMSO</text>
<text x="430" y="180" font-size="10.3" text-anchor="end" fill="#000" transform="rotate(-45 430 180)">Remdesivir</text>
<text x="448.2" y="179.6" font-size="10.3" text-anchor="end" fill="#000" transform="rotate(-45 448.2 179.6)">RBC</text>
<text x="350.8" y="62.5" font-size="11.7" text-anchor="middle" fill="#000">Nasal turbinate</text>
<text x="428" y="62" font-size="11.7" text-anchor="middle" fill="#000">Lung</text>
<path d="M321.3 82.5V77H365V127.5" stroke="#000" stroke-width="1.2" fill="none"/>
<text x="343.8" y="76.3" font-size="12.5" text-anchor="middle" fill="#383838">*</text>
<path d="M321.3 96.3V91.3H343.8V100.5" stroke="#000" stroke-width="1.2" fill="none"/>
<text x="336.3" y="88" font-size="10.5" text-anchor="middle" fill="#000">n.s.</text>
<path d="M400.5 96.3V88.3H445V140.6" stroke="#000" stroke-width="1.2" fill="none"/>
<text x="423.3" y="87.8" font-size="12.5" text-anchor="middle" fill="#383838">**</text>
<path d="M400.5 105.5V103.3H423.8V131" stroke="#000" stroke-width="1.2" fill="none"/>
<text x="412" y="103.1" font-size="12.5" text-anchor="middle" fill="#383838">**</text>
<path d="M320.8 106.3V128.1M316.8 106.3H324.8M316.8 128.1H324.8" stroke="#000" stroke-width="1.2" fill="none"/>
<line x1="314.5" y1="114.5" x2="327.1" y2="114.5" stroke="#000" stroke-width="1.3"/>
<circle cx="317.8" cy="107.8" r="2.35" fill="#000" stroke="none" stroke-width="1"/>
<circle cx="323" cy="108.5" r="2.35" fill="#000" stroke="none" stroke-width="1"/>
<circle cx="315.3" cy="123.2" r="2.35" fill="#000" stroke="none" stroke-width="1"/>
<circle cx="320.4" cy="121.3" r="2.35" fill="#000" stroke="none" stroke-width="1"/>
<circle cx="325.5" cy="121.7" r="2.35" fill="#000" stroke="none" stroke-width="1"/>
<path d="M342.8 113.8V141.2M338.8 113.8H346.8M338.8 141.2H346.8" stroke="#e9746f" stroke-width="1.2" fill="none"/>
<line x1="336.5" y1="121.3" x2="349.1" y2="121.3" stroke="#e9746f" stroke-width="1.3"/>
<rect x="340.3" y="109.60000000000001" width="4.6" height="4.6" fill="#e9746f" stroke="none" stroke-width="1"/>
<rect x="345.3" y="116.10000000000001" width="4.6" height="4.6" fill="#e9746f" stroke="none" stroke-width="1"/>
<rect x="334.8" y="119.9" width="4.6" height="4.6" fill="#e9746f" stroke="none" stroke-width="1"/>
<rect x="345.7" y="131.5" width="4.6" height="4.6" fill="#e9746f" stroke="none" stroke-width="1"/>
<rect x="335.0" y="133.5" width="4.6" height="4.6" fill="#e9746f" stroke="none" stroke-width="1"/>
<path d="M364.7 131.6V141.9M360.7 131.6H368.7M360.7 141.9H368.7" stroke="#1f4ea6" stroke-width="1.2" fill="none"/>
<line x1="358.4" y1="134.8" x2="371.0" y2="134.8" stroke="#1f4ea6" stroke-width="1.3"/>
<path d="M369.2 128.14L371.25 132.23999999999998L367.15 132.23999999999998Z" fill="#1f4ea6"/>
<path d="M359.8 131.34L361.85 135.44L357.75 135.44Z" fill="#1f4ea6"/>
<path d="M369.8 136.73999999999998L371.85 140.83999999999997L367.75 140.83999999999997Z" fill="#1f4ea6"/>
<path d="M359.8 136.44L361.85 140.54L357.75 140.54Z" fill="#1f4ea6"/>
<path d="M360.2 140.73999999999998L362.25 144.83999999999997L358.15 144.83999999999997Z" fill="#1f4ea6"/>
<path d="M400.8 122.5V133.5M396.8 122.5H404.8M396.8 133.5H404.8" stroke="#000" stroke-width="1.2" fill="none"/>
<line x1="393.2" y1="127.5" x2="408.40000000000003" y2="127.5" stroke="#000" stroke-width="1.3"/>
<circle cx="401" cy="120.3" r="2.35" fill="#000" stroke="none" stroke-width="1"/>
<circle cx="396.3" cy="129.5" r="2.35" fill="#000" stroke="none" stroke-width="1"/>
<circle cx="405.3" cy="127.8" r="2.35" fill="#000" stroke="none" stroke-width="1"/>
<circle cx="399" cy="129.3" r="2.35" fill="#000" stroke="none" stroke-width="1"/>
<circle cx="402.6" cy="128.6" r="2.35" fill="#000" stroke="none" stroke-width="1"/>
<path d="M423 141V146.5M419 141H427M419 146.5H427" stroke="#e9746f" stroke-width="1.2" fill="none"/>
<line x1="416.7" y1="143.8" x2="429.3" y2="143.8" stroke="#e9746f" stroke-width="1.3"/>
<rect x="415.4" y="138.29999999999998" width="4.6" height="4.6" fill="#e9746f" stroke="none" stroke-width="1"/>
<rect x="415.8" y="142.79999999999998" width="4.6" height="4.6" fill="#e9746f" stroke="none" stroke-width="1"/>
<rect x="421.2" y="141.2" width="4.6" height="4.6" fill="#e9746f" stroke="none" stroke-width="1"/>
<rect x="425.7" y="142.1" width="4.6" height="4.6" fill="#e9746f" stroke="none" stroke-width="1"/>
<rect x="416.2" y="145.1" width="4.6" height="4.6" fill="#e9746f" stroke="none" stroke-width="1"/>
<path d="M444.8 147.6V157.3M440.8 147.6H448.8M440.8 157.3H448.8" stroke="#1f4ea6" stroke-width="1.2" fill="none"/>
<line x1="438.5" y1="151.7" x2="451.1" y2="151.7" stroke="#1f4ea6" stroke-width="1.3"/>
<path d="M439.8 144.84L441.85 148.94L437.75 148.94Z" fill="#1f4ea6"/>
<path d="M449.8 146.14L451.85 150.23999999999998L447.75 150.23999999999998Z" fill="#1f4ea6"/>
<path d="M439.8 149.94L441.85 154.04L437.75 154.04Z" fill="#1f4ea6"/>
<path d="M439.8 155.73999999999998L441.85 159.83999999999997L437.75 159.83999999999997Z" fill="#1f4ea6"/>
<path d="M449.8 155.73999999999998L451.85 159.83999999999997L447.75 159.83999999999997Z" fill="#1f4ea6"/>
<text x="261" y="108.8" font-size="11.35" text-anchor="middle" fill="#000" transform="rotate(-90 261 108.8)">Tissue viral load</text>
<text x="274.6" y="110" font-size="11.1" text-anchor="middle" transform="rotate(-90 274.6 110)">(Log<tspan font-size="9.3" dy="4.2">10</tspan><tspan dy="-4.2">viral copy/β-actin)</tspan></text>
<text x="275" y="225.5" font-size="19.5" text-anchor="start" fill="#000">e</text>
<line x1="307" y1="246.5" x2="307" y2="348.7" stroke="#000" stroke-width="1.3"/>
<line x1="306.3" y1="348" x2="461" y2="348" stroke="#000" stroke-width="1.3"/>
<line x1="303" y1="348.0" x2="307" y2="348.0" stroke="#000" stroke-width="1.3"/>
<text x="301" y="351.7" font-size="10.5" text-anchor="end" fill="#000">4</text>
<line x1="303" y1="327.8" x2="307" y2="327.8" stroke="#000" stroke-width="1.3"/>
<text x="301" y="331.5" font-size="10.5" text-anchor="end" fill="#000">5</text>
<line x1="303" y1="307.6" x2="307" y2="307.6" stroke="#000" stroke-width="1.3"/>
<text x="301" y="311.3" font-size="10.5" text-anchor="end" fill="#000">6</text>
<line x1="303" y1="287.4" x2="307" y2="287.4" stroke="#000" stroke-width="1.3"/>
<text x="301" y="291.09999999999997" font-size="10.5" text-anchor="end" fill="#000">7</text>
<line x1="303" y1="267.2" x2="307" y2="267.2" stroke="#000" stroke-width="1.3"/>
<text x="301" y="270.9" font-size="10.5" text-anchor="end" fill="#000">8</text>
<line x1="303" y1="247.0" x2="307" y2="247.0" stroke="#000" stroke-width="1.3"/>
<text x="301" y="250.7" font-size="10.5" text-anchor="end" fill="#000">9</text>
<line x1="321" y1="348" x2="321" y2="351.5" stroke="#000" stroke-width="1.3"/>
<line x1="344" y1="348" x2="344" y2="351.5" stroke="#000" stroke-width="1.3"/>
<line x1="365.8" y1="348" x2="365.8" y2="351.5" stroke="#000" stroke-width="1.3"/>
<line x1="401.5" y1="348" x2="401.5" y2="351.5" stroke="#000" stroke-width="1.3"/>
<line x1="424" y1="348" x2="424" y2="351.5" stroke="#000" stroke-width="1.3"/>
<line x1="446.2" y1="348" x2="446.2" y2="351.5" stroke="#000" stroke-width="1.3"/>
<text x="325" y="361.8" font-size="10.3" text-anchor="end" fill="#000" transform="rotate(-45 325 361.8)">DMSO</text>
<text x="347.5" y="361.8" font-size="10.3" text-anchor="end" fill="#000" transform="rotate(-45 347.5 361.8)">Remdesivir</text>
<text x="369" y="361.8" font-size="10.3" text-anchor="end" fill="#000" transform="rotate(-45 369 361.8)">RBC</text>
<text x="405.2" y="361.8" font-size="10.3" text-anchor="end" fill="#000" transform="rotate(-45 405.2 361.8)">DMSO</text>
<text x="430.8" y="360.3" font-size="10.3" text-anchor="end" fill="#000" transform="rotate(-45 430.8 360.3)">Remdesivir</text>
<text x="450.8" y="360" font-size="10.3" text-anchor="end" fill="#000" transform="rotate(-45 450.8 360)">RBC</text>
<text x="356.5" y="239.5" font-size="11.7" text-anchor="middle" fill="#000">Nasal turbinate</text>
<text x="426.3" y="239.5" font-size="11.7" text-anchor="middle" fill="#000">Lung</text>
<path d="M323 257.5V253H366.3V257.5" stroke="#000" stroke-width="1.2" fill="none"/>
<text x="344.3" y="252.8" font-size="12.5" text-anchor="middle" fill="#383838">**</text>
<path d="M323 271.8V268.3H345.5V271.8" stroke="#000" stroke-width="1.2" fill="none"/>
<text x="334.3" y="268.8" font-size="12.5" text-anchor="middle" fill="#383838">**</text>
<path d="M401.8 257.5V253H446.8V257.5" stroke="#000" stroke-width="1.2" fill="none"/>
<text x="423.8" y="252.8" font-size="12.5" text-anchor="middle" fill="#383838">*</text>
<path d="M401.8 271.8V268.3H423.8V271.8" stroke="#000" stroke-width="1.2" fill="none"/>
<text x="412.5" y="267.8" font-size="12.5" text-anchor="middle" fill="#383838">*</text>
<path d="M322 288.8V296.3M318 288.8H326M318 296.3H326" stroke="#000" stroke-width="1.2" fill="none"/>
<line x1="315.7" y1="292.5" x2="328.3" y2="292.5" stroke="#000" stroke-width="1.3"/>
<circle cx="317.5" cy="288" r="2.35" fill="#000" stroke="none" stroke-width="1"/>
<circle cx="326.3" cy="291.3" r="2.35" fill="#000" stroke="none" stroke-width="1"/>
<circle cx="321.3" cy="292" r="2.35" fill="#000" stroke="none" stroke-width="1"/>
<circle cx="317.5" cy="298" r="2.35" fill="#000" stroke="none" stroke-width="1"/>
<circle cx="326.3" cy="298" r="2.35" fill="#000" stroke="none" stroke-width="1"/>
<line x1="339.8" y1="334.3" x2="347.8" y2="334.3" stroke="#e9746f" stroke-width="1.3"/>
<rect x="341.5" y="329.7" width="4.6" height="4.6" fill="#e9746f" stroke="none" stroke-width="1"/>
<rect x="337.2" y="332.7" width="4.6" height="4.6" fill="#e9746f" stroke="none" stroke-width="1"/>
<rect x="345.7" y="331.5" width="4.6" height="4.6" fill="#e9746f" stroke="none" stroke-width="1"/>
<rect x="337.7" y="335.2" width="4.6" height="4.6" fill="#e9746f" stroke="none" stroke-width="1"/>
<rect x="345.2" y="335.2" width="4.6" height="4.6" fill="#e9746f" stroke="none" stroke-width="1"/>
<path d="M365.8 314.5V330M361.8 314.5H369.8M361.8 330H369.8" stroke="#1f4ea6" stroke-width="1.2" fill="none"/>
<line x1="358.8" y1="319.5" x2="372.8" y2="319.5" stroke="#1f4ea6" stroke-width="1.3"/>
<path d="M365.8 312.04L367.85 316.14L363.75 316.14Z" fill="#1f4ea6"/>
<path d="M362.5 317.04L364.55 321.14L360.45 321.14Z" fill="#1f4ea6"/>
<path d="M369.3 316.34000000000003L371.35 320.44L367.25 320.44Z" fill="#1f4ea6"/>
<path d="M365.8 325.04L367.85 329.14L363.75 329.14Z" fill="#1f4ea6"/>
<path d="M365.8 330.54L367.85 334.64L363.75 334.64Z" fill="#1f4ea6"/>
<path d="M402 285V311.3M398 285H406M398 311.3H406" stroke="#000" stroke-width="1.2" fill="none"/>
<line x1="395.7" y1="291.3" x2="408.3" y2="291.3" stroke="#000" stroke-width="1.3"/>
<circle cx="402" cy="283" r="2.35" fill="#000" stroke="none" stroke-width="1"/>
<circle cx="407" cy="292" r="2.35" fill="#000" stroke="none" stroke-width="1"/>
<circle cx="397.5" cy="297.5" r="2.35" fill="#000" stroke="none" stroke-width="1"/>
<circle cx="402" cy="297" r="2.35" fill="#000" stroke="none" stroke-width="1"/>
<circle cx="407.5" cy="298" r="2.35" fill="#000" stroke="none" stroke-width="1"/>
<line x1="418.8" y1="318" x2="428.8" y2="318" stroke="#e9746f" stroke-width="1.3"/>
<rect x="417.0" y="312.7" width="4.6" height="4.6" fill="#e9746f" stroke="none" stroke-width="1"/>
<rect x="426.5" y="312.7" width="4.6" height="4.6" fill="#e9746f" stroke="none" stroke-width="1"/>
<rect x="421.5" y="315.7" width="4.6" height="4.6" fill="#e9746f" stroke="none" stroke-width="1"/>
<rect x="417.0" y="319.0" width="4.6" height="4.6" fill="#e9746f" stroke="none" stroke-width="1"/>
<rect x="426.5" y="319.0" width="4.6" height="4.6" fill="#e9746f" stroke="none" stroke-width="1"/>
<path d="M446.3 313V323.8M442.3 313H450.3M442.3 323.8H450.3" stroke="#1f4ea6" stroke-width="1.2" fill="none"/>
<line x1="439.3" y1="318" x2="453.3" y2="318" stroke="#1f4ea6" stroke-width="1.3"/>
<path d="M446.3 310.54L448.35 314.64L444.25 314.64Z" fill="#1f4ea6"/>
<path d="M442.5 315.54L444.55 319.64L440.45 319.64Z" fill="#1f4ea6"/>
<path d="M450 315.54L452.05 319.64L447.95 319.64Z" fill="#1f4ea6"/>
<path d="M446.3 316.34000000000003L448.35 320.44L444.25 320.44Z" fill="#1f4ea6"/>
<path d="M446.3 320.04L448.35 324.14L444.25 324.14Z" fill="#1f4ea6"/>
<text x="262.5" y="293.6" font-size="11.25" text-anchor="middle" fill="#000" transform="rotate(-90 262.5 293.6)">Tissue virus titer</text>
<text x="278.8" y="293.4" font-size="12.2" text-anchor="middle" transform="rotate(-90 278.8 293.4)">(Log<tspan font-size="9.8" dy="4">10</tspan><tspan dy="-4">TCID</tspan><tspan font-size="9.8" dy="3.2">50</tspan><tspan dy="-3.2">/mL)</tspan></text>
<text x="275.4" y="405.5" font-size="19.5" text-anchor="start" fill="#000">f</text>
<line x1="301.5" y1="456" x2="301.5" y2="560" stroke="#000" stroke-width="1.3"/>
<line x1="300.8" y1="559.3" x2="479" y2="559.3" stroke="#000" stroke-width="1.3"/>
<line x1="298.7" y1="456.73" x2="301.5" y2="456.73" stroke="#000" stroke-width="1.1"/>
<line x1="297.5" y1="469.5" x2="301.5" y2="469.5" stroke="#000" stroke-width="1.3"/>
<text x="296" y="473.1" font-size="10.5" text-anchor="end" fill="#000">0</text>
<line x1="298.7" y1="482.27" x2="301.5" y2="482.27" stroke="#000" stroke-width="1.1"/>
<line x1="297.5" y1="495.04" x2="301.5" y2="495.04" stroke="#000" stroke-width="1.3"/>
<text x="296" y="498.64000000000004" font-size="10.5" text-anchor="end" fill="#000">-2</text>
<line x1="298.7" y1="507.81" x2="301.5" y2="507.81" stroke="#000" stroke-width="1.1"/>
<line x1="297.5" y1="520.58" x2="301.5" y2="520.58" stroke="#000" stroke-width="1.3"/>
<text x="296" y="524.1800000000001" font-size="10.5" text-anchor="end" fill="#000">-4</text>
<line x1="298.7" y1="533.35" x2="301.5" y2="533.35" stroke="#000" stroke-width="1.1"/>
<line x1="297.5" y1="546.12" x2="301.5" y2="546.12" stroke="#000" stroke-width="1.3"/>
<text x="296" y="549.72" font-size="10.5" text-anchor="end" fill="#000">-6</text>
<line x1="298.7" y1="558.89" x2="301.5" y2="558.89" stroke="#000" stroke-width="1.1"/>
<line x1="329.7" y1="457.5" x2="329.7" y2="559" stroke="#8a8a8a" stroke-width="1.1"/>
<line x1="359.4" y1="457.5" x2="359.4" y2="559" stroke="#8a8a8a" stroke-width="1.1"/>
<line x1="389.5" y1="457.5" x2="389.5" y2="559" stroke="#8a8a8a" stroke-width="1.1"/>
<line x1="419.4" y1="457.5" x2="419.4" y2="559" stroke="#8a8a8a" stroke-width="1.1"/>
<line x1="449.3" y1="457.5" x2="449.3" y2="559" stroke="#8a8a8a" stroke-width="1.1"/>
<line x1="314.5" y1="559.3" x2="314.5" y2="562.8" stroke="#000" stroke-width="1.3"/>
<text x="317.8" y="570.3" font-size="10.5" text-anchor="end" fill="#000" transform="rotate(-45 317.8 570.3)">TNF-<tspan font-style="italic">α</tspan></text>
<line x1="344.6" y1="559.3" x2="344.6" y2="562.8" stroke="#000" stroke-width="1.3"/>
<text x="347.90000000000003" y="570.3" font-size="10.5" text-anchor="end" fill="#000" transform="rotate(-45 347.90000000000003 570.3)">IFN-<tspan font-style="italic">γ</tspan></text>
<line x1="374.4" y1="559.3" x2="374.4" y2="562.8" stroke="#000" stroke-width="1.3"/>
<text x="377.7" y="570.3" font-size="10.5" text-anchor="end" fill="#000" transform="rotate(-45 377.7 570.3)">IL-6</text>
<line x1="404.3" y1="559.3" x2="404.3" y2="562.8" stroke="#000" stroke-width="1.3"/>
<text x="407.6" y="570.3" font-size="10.5" text-anchor="end" fill="#000" transform="rotate(-45 407.6 570.3)">IL-10</text>
<line x1="433.9" y1="559.3" x2="433.9" y2="562.8" stroke="#000" stroke-width="1.3"/>
<text x="437.2" y="570.3" font-size="10.5" text-anchor="end" fill="#000" transform="rotate(-45 437.2 570.3)">CCL22</text>
<line x1="463.9" y1="559.3" x2="463.9" y2="562.8" stroke="#000" stroke-width="1.3"/>
<text x="467.2" y="570.3" font-size="10.5" text-anchor="end" fill="#000" transform="rotate(-45 467.2 570.3)">CCR4</text>
<circle cx="311.8" cy="433" r="2.4" fill="#000" stroke="none" stroke-width="1"/>
<text x="317.5" y="436.3" font-size="10.4" text-anchor="start" fill="#000">DMSO</text>
<rect x="359.7" y="430.9" width="4.2" height="4.2" fill="#e9746f" stroke="none" stroke-width="1"/>
<text x="367.5" y="436.3" font-size="10.4" text-anchor="start" fill="#000">Remdesivir</text>
<path d="M430 430.64L432.3 435.23999999999995L427.7 435.23999999999995Z" fill="#1f4ea6"/>
<text x="434.5" y="436.3" font-size="10.4" text-anchor="start" fill="#000">RBC</text>
<circle cx="305.8" cy="508.8" r="2.1" fill="#000" stroke="none" stroke-width="1"/>
<circle cx="306.8" cy="510.05" r="2.1" fill="#000" stroke="none" stroke-width="1"/>
<circle cx="305.8" cy="511.3" r="2.1" fill="#000" stroke="none" stroke-width="1"/>
<circle cx="306.8" cy="512.55" r="2.1" fill="#000" stroke="none" stroke-width="1"/>
<circle cx="305.8" cy="513.8" r="2.1" fill="#000" stroke="none" stroke-width="1"/>
<rect x="312.00000000000006" y="509.4" width="3.8" height="3.8" fill="#e9746f" stroke="none" stroke-width="1"/>
<rect x="312.8" y="510.9" width="3.8" height="3.8" fill="#e9746f" stroke="none" stroke-width="1"/>
<rect x="312.00000000000006" y="512.4" width="3.8" height="3.8" fill="#e9746f" stroke="none" stroke-width="1"/>
<rect x="312.8" y="513.9" width="3.8" height="3.8" fill="#e9746f" stroke="none" stroke-width="1"/>
<rect x="312.00000000000006" y="515.4" width="3.8" height="3.8" fill="#e9746f" stroke="none" stroke-width="1"/>
<line x1="323.3" y1="511.29999999999995" x2="323.3" y2="521.3" stroke="#1f4ea6" stroke-width="1"/>
<line x1="321.0" y1="521.3" x2="325.6" y2="521.3" stroke="#1f4ea6" stroke-width="1"/>
<path d="M322.90000000000003 509.65999999999997L325.1 514.06L320.70000000000005 514.06Z" fill="#1f4ea6"/>
<path d="M323.7 511.65999999999997L325.9 516.06L321.5 516.06Z" fill="#1f4ea6"/>
<path d="M322.90000000000003 513.66L325.1 518.06L320.70000000000005 518.06Z" fill="#1f4ea6"/>
<path d="M323.7 515.66L325.9 520.06L321.5 520.06Z" fill="#1f4ea6"/>
<path d="M322.90000000000003 517.66L325.1 522.06L320.70000000000005 522.06Z" fill="#1f4ea6"/>
<circle cx="335.8" cy="512.0" r="2.1" fill="#000" stroke="none" stroke-width="1"/>
<circle cx="336.8" cy="513.5" r="2.1" fill="#000" stroke="none" stroke-width="1"/>
<circle cx="335.8" cy="515.0" r="2.1" fill="#000" stroke="none" stroke-width="1"/>
<circle cx="336.8" cy="516.5" r="2.1" fill="#000" stroke="none" stroke-width="1"/>
<circle cx="335.8" cy="518.0" r="2.1" fill="#000" stroke="none" stroke-width="1"/>
<rect x="342.00000000000006" y="514.4" width="3.8" height="3.8" fill="#e9746f" stroke="none" stroke-width="1"/>
<rect x="342.8" y="515.65" width="3.8" height="3.8" fill="#e9746f" stroke="none" stroke-width="1"/>
<rect x="342.00000000000006" y="516.9" width="3.8" height="3.8" fill="#e9746f" stroke="none" stroke-width="1"/>
<rect x="342.8" y="518.15" width="3.8" height="3.8" fill="#e9746f" stroke="none" stroke-width="1"/>
<rect x="342.00000000000006" y="519.4" width="3.8" height="3.8" fill="#e9746f" stroke="none" stroke-width="1"/>
<line x1="352.5" y1="521.3" x2="352.5" y2="531.3" stroke="#1f4ea6" stroke-width="1"/>
<line x1="350.2" y1="531.3" x2="354.8" y2="531.3" stroke="#1f4ea6" stroke-width="1"/>
<path d="M352.1 519.66L354.3 524.06L349.90000000000003 524.06Z" fill="#1f4ea6"/>
<path d="M352.9 521.66L355.09999999999997 526.06L350.7 526.06Z" fill="#1f4ea6"/>
<path d="M352.1 523.66L354.3 528.06L349.90000000000003 528.06Z" fill="#1f4ea6"/>
<path d="M352.9 525.66L355.09999999999997 530.06L350.7 530.06Z" fill="#1f4ea6"/>
<path d="M352.1 527.66L354.3 532.06L349.90000000000003 532.06Z" fill="#1f4ea6"/>
<circle cx="365.8" cy="471.0" r="2.1" fill="#000" stroke="none" stroke-width="1"/>
<circle cx="366.8" cy="474.25" r="2.1" fill="#000" stroke="none" stroke-width="1"/>
<circle cx="365.8" cy="477.5" r="2.1" fill="#000" stroke="none" stroke-width="1"/>
<circle cx="366.8" cy="480.75" r="2.1" fill="#000" stroke="none" stroke-width="1"/>
<circle cx="365.8" cy="484.0" r="2.1" fill="#000" stroke="none" stroke-width="1"/>
<rect x="372.00000000000006" y="485.1" width="3.8" height="3.8" fill="#e9746f" stroke="none" stroke-width="1"/>
<rect x="372.8" y="488.1" width="3.8" height="3.8" fill="#e9746f" stroke="none" stroke-width="1"/>
<rect x="372.00000000000006" y="491.1" width="3.8" height="3.8" fill="#e9746f" stroke="none" stroke-width="1"/>
<rect x="372.8" y="494.1" width="3.8" height="3.8" fill="#e9746f" stroke="none" stroke-width="1"/>
<rect x="372.00000000000006" y="497.1" width="3.8" height="3.8" fill="#e9746f" stroke="none" stroke-width="1"/>
<line x1="382" y1="492.3" x2="382" y2="500.3" stroke="#1f4ea6" stroke-width="1"/>
<line x1="379.7" y1="500.3" x2="384.3" y2="500.3" stroke="#1f4ea6" stroke-width="1"/>
<path d="M381.6 490.66L383.8 495.06L379.40000000000003 495.06Z" fill="#1f4ea6"/>
<path d="M382.4 492.16L384.59999999999997 496.56L380.2 496.56Z" fill="#1f4ea6"/>
<path d="M381.6 493.66L383.8 498.06L379.40000000000003 498.06Z" fill="#1f4ea6"/>
<path d="M382.4 495.16L384.59999999999997 499.56L380.2 499.56Z" fill="#1f4ea6"/>
<path d="M381.6 496.66L383.8 501.06L379.40000000000003 501.06Z" fill="#1f4ea6"/>
<circle cx="395.3" cy="514.0" r="2.1" fill="#000" stroke="none" stroke-width="1"/>
<circle cx="396.3" cy="516.0" r="2.1" fill="#000" stroke="none" stroke-width="1"/>
<circle cx="395.3" cy="518.0" r="2.1" fill="#000" stroke="none" stroke-width="1"/>
<circle cx="396.3" cy="520.0" r="2.1" fill="#000" stroke="none" stroke-width="1"/>
<circle cx="395.3" cy="522.0" r="2.1" fill="#000" stroke="none" stroke-width="1"/>
<rect x="401.50000000000006" y="513.6" width="3.8" height="3.8" fill="#e9746f" stroke="none" stroke-width="1"/>
<rect x="402.3" y="515.6" width="3.8" height="3.8" fill="#e9746f" stroke="none" stroke-width="1"/>
<rect x="401.50000000000006" y="517.6" width="3.8" height="3.8" fill="#e9746f" stroke="none" stroke-width="1"/>
<rect x="402.3" y="519.6" width="3.8" height="3.8" fill="#e9746f" stroke="none" stroke-width="1"/>
<rect x="401.50000000000006" y="521.6" width="3.8" height="3.8" fill="#e9746f" stroke="none" stroke-width="1"/>
<line x1="412.3" y1="534.5" x2="412.3" y2="544.5" stroke="#1f4ea6" stroke-width="1"/>
<line x1="410.0" y1="544.5" x2="414.6" y2="544.5" stroke="#1f4ea6" stroke-width="1"/>
<path d="M411.90000000000003 532.86L414.1 537.26L409.70000000000005 537.26Z" fill="#1f4ea6"/>
<path d="M412.7 534.86L414.9 539.26L410.5 539.26Z" fill="#1f4ea6"/>
<path d="M411.90000000000003 536.86L414.1 541.26L409.70000000000005 541.26Z" fill="#1f4ea6"/>
<path d="M412.7 538.86L414.9 543.26L410.5 543.26Z" fill="#1f4ea6"/>
<path d="M411.90000000000003 540.86L414.1 545.26L409.70000000000005 545.26Z" fill="#1f4ea6"/>
<circle cx="425.8" cy="520.0" r="2.1" fill="#000" stroke="none" stroke-width="1"/>
<circle cx="426.8" cy="521.0" r="2.1" fill="#000" stroke="none" stroke-width="1"/>
<circle cx="425.8" cy="522.0" r="2.1" fill="#000" stroke="none" stroke-width="1"/>
<circle cx="426.8" cy="523.0" r="2.1" fill="#000" stroke="none" stroke-width="1"/>
<circle cx="425.8" cy="524.0" r="2.1" fill="#000" stroke="none" stroke-width="1"/>
<rect x="432.00000000000006" y="516.1" width="3.8" height="3.8" fill="#e9746f" stroke="none" stroke-width="1"/>
<rect x="432.8" y="517.35" width="3.8" height="3.8" fill="#e9746f" stroke="none" stroke-width="1"/>
<rect x="432.00000000000006" y="518.6" width="3.8" height="3.8" fill="#e9746f" stroke="none" stroke-width="1"/>
<rect x="432.8" y="519.85" width="3.8" height="3.8" fill="#e9746f" stroke="none" stroke-width="1"/>
<rect x="432.00000000000006" y="521.1" width="3.8" height="3.8" fill="#e9746f" stroke="none" stroke-width="1"/>
<line x1="442.5" y1="519.3" x2="442.5" y2="527.3" stroke="#1f4ea6" stroke-width="1"/>
<line x1="440.2" y1="527.3" x2="444.8" y2="527.3" stroke="#1f4ea6" stroke-width="1"/>
<path d="M442.1 517.66L444.3 522.06L439.90000000000003 522.06Z" fill="#1f4ea6"/>
<path d="M442.9 519.16L445.09999999999997 523.56L440.7 523.56Z" fill="#1f4ea6"/>
<path d="M442.1 520.66L444.3 525.06L439.90000000000003 525.06Z" fill="#1f4ea6"/>
<path d="M442.9 522.16L445.09999999999997 526.56L440.7 526.56Z" fill="#1f4ea6"/>
<path d="M442.1 523.66L444.3 528.06L439.90000000000003 528.06Z" fill="#1f4ea6"/>
<circle cx="455.3" cy="507.3" r="2.1" fill="#000" stroke="none" stroke-width="1"/>
<circle cx="456.3" cy="509.3" r="2.1" fill="#000" stroke="none" stroke-width="1"/>
<circle cx="455.3" cy="511.3" r="2.1" fill="#000" stroke="none" stroke-width="1"/>
<circle cx="456.3" cy="513.3" r="2.1" fill="#000" stroke="none" stroke-width="1"/>
<circle cx="455.3" cy="515.3" r="2.1" fill="#000" stroke="none" stroke-width="1"/>
<rect x="461.50000000000006" y="505.6" width="3.8" height="3.8" fill="#e9746f" stroke="none" stroke-width="1"/>
<rect x="462.3" y="508.1" width="3.8" height="3.8" fill="#e9746f" stroke="none" stroke-width="1"/>
<rect x="461.50000000000006" y="510.6" width="3.8" height="3.8" fill="#e9746f" stroke="none" stroke-width="1"/>
<rect x="462.3" y="513.1" width="3.8" height="3.8" fill="#e9746f" stroke="none" stroke-width="1"/>
<rect x="461.50000000000006" y="515.6" width="3.8" height="3.8" fill="#e9746f" stroke="none" stroke-width="1"/>
<line x1="472" y1="514.3" x2="472" y2="524.3" stroke="#1f4ea6" stroke-width="1"/>
<line x1="469.7" y1="524.3" x2="474.3" y2="524.3" stroke="#1f4ea6" stroke-width="1"/>
<path d="M471.6 512.66L473.8 517.06L469.40000000000003 517.06Z" fill="#1f4ea6"/>
<path d="M472.4 514.66L474.59999999999997 519.06L470.2 519.06Z" fill="#1f4ea6"/>
<path d="M471.6 516.66L473.8 521.06L469.40000000000003 521.06Z" fill="#1f4ea6"/>
<path d="M472.4 518.66L474.59999999999997 523.06L470.2 523.06Z" fill="#1f4ea6"/>
<path d="M471.6 520.66L473.8 525.06L469.40000000000003 525.06Z" fill="#1f4ea6"/>
<path d="M335.5 509.5V504.5H353V520" stroke="#000" stroke-width="1.2" fill="none"/>
<text x="344.3" y="504.8" font-size="12.5" text-anchor="middle" fill="#383838">*</text>
<path d="M363.8 460V455.5H382.5V490" stroke="#000" stroke-width="1.2" fill="none"/>
<text x="375.5" y="454.8" font-size="12.5" text-anchor="middle" fill="#383838">**</text>
<path d="M363.8 466V463.8H375.5V477.5" stroke="#000" stroke-width="1.2" fill="none"/>
<text x="371.3" y="464.8" font-size="12.5" text-anchor="middle" fill="#383838">*</text>
<path d="M395 509.5V504.5H412V532.5" stroke="#000" stroke-width="1.2" fill="none"/>
<text x="405" y="504.8" font-size="12.5" text-anchor="middle" fill="#383838">***</text>
<path d="M455.8 502.5V496.3H472.5V512.5" stroke="#000" stroke-width="1.2" fill="none"/>
<text x="463.8" y="497.8" font-size="12.5" text-anchor="middle" fill="#383838">*</text>
<text x="262.5" y="500.6" font-size="11.7" text-anchor="middle" fill="#000" transform="rotate(-90 262.5 500.6)">Relative mRNA level</text>
<text x="278.8" y="500.4" font-size="12" text-anchor="middle" transform="rotate(-90 278.8 500.4)">(Log<tspan font-size="9.3" dy="3.6">10 </tspan><tspan dy="-3.6">per <tspan font-style="italic">γ</tspan>-actin)</tspan></text>
</svg>
</body></html>
